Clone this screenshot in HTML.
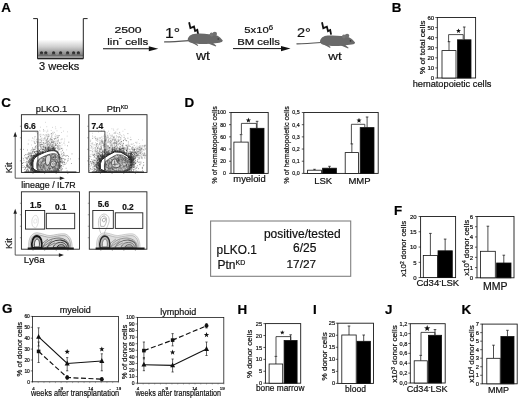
<!DOCTYPE html>
<html><head><meta charset="utf-8"><title>Figure</title>
<style>html,body{margin:0;padding:0;background:#fff;}svg{display:block;filter:blur(0.35px);}svg text{font-family:"Liberation Sans",sans-serif;stroke:#111;stroke-width:0.2px;}</style></head>
<body>
<svg width="520" height="399" viewBox="0 0 520 399" >
<defs><linearGradient id="wg" x1="0" y1="0" x2="0" y2="1"><stop offset="0" stop-color="#fff"/><stop offset="0.45" stop-color="#cfcfcf"/><stop offset="1" stop-color="#7a7a7a"/></linearGradient></defs>
<rect width="520" height="399" fill="#fff"/>
<text x="1.2" y="12.3" font-size="13.4" text-anchor="start" font-weight="bold" fill="#000" stroke-width="0.32" >A</text>
<rect x="37.6" y="39.5" width="46" height="16.3" fill="url(#wg)"/>
<rect x="37.6" y="55.8" width="46" height="2" fill="#b8b8b8"/>
<polyline points="33.2,18.6 37.5,18.6 37.5,58.6 83.3,58.6 83.3,18.6 87.6,18.6" fill="none" stroke="#222" stroke-width="1"/>
<line x1="37.50" y1="58.50" x2="83.30" y2="58.50" stroke="#222" stroke-width="1.7" />
<line x1="38.00" y1="55.90" x2="83.00" y2="55.90" stroke="#333" stroke-width="0.7" />
<circle cx="41.5" cy="52.8" r="1.6" fill="#2e2e2e"/>
<ellipse cx="41.5" cy="54.5" rx="2.2" ry="0.7" fill="#666"/>
<circle cx="45.8" cy="52.8" r="1.6" fill="#2e2e2e"/>
<ellipse cx="45.8" cy="54.5" rx="2.2" ry="0.7" fill="#666"/>
<circle cx="53.6" cy="52.8" r="1.6" fill="#2e2e2e"/>
<ellipse cx="53.6" cy="54.5" rx="2.2" ry="0.7" fill="#666"/>
<circle cx="60.6" cy="52.8" r="1.6" fill="#2e2e2e"/>
<ellipse cx="60.6" cy="54.5" rx="2.2" ry="0.7" fill="#666"/>
<circle cx="67.6" cy="52.8" r="1.6" fill="#2e2e2e"/>
<ellipse cx="67.6" cy="54.5" rx="2.2" ry="0.7" fill="#666"/>
<circle cx="73.6" cy="52.8" r="1.6" fill="#2e2e2e"/>
<ellipse cx="73.6" cy="54.5" rx="2.2" ry="0.7" fill="#666"/>
<circle cx="78.4" cy="52.8" r="1.6" fill="#2e2e2e"/>
<ellipse cx="78.4" cy="54.5" rx="2.2" ry="0.7" fill="#666"/>
<text x="59.2" y="69.6" font-size="11" text-anchor="middle" font-weight="normal" fill="#111" stroke-width="0.32" >3 weeks</text>
<text transform="translate(128.0,33.2) scale(1.26,1)" font-size="9.7" text-anchor="middle" font-weight="normal" fill="#111" stroke-width="0.27">2500</text>
<text transform="translate(127.8,44.6) scale(1.19,1)" font-size="9.7" text-anchor="middle" font-weight="normal" fill="#111" stroke-width="0.27">lin<tspan dy="-4.5" font-size="8">-</tspan><tspan dy="4.5"> cells</tspan></text>
<line x1="103.00" y1="48.75" x2="151.00" y2="48.75" stroke="#111" stroke-width="1" />
<polygon points="158.3,48.75 148.8,46.2 148.8,51.3" fill="#111"/>
<text transform="translate(165.0,38.2) scale(1.05,1)" font-size="15" text-anchor="start" font-weight="normal" fill="#111" stroke-width="0.30">1°</text>
<polyline points="189.1,22.2 190.4,28.1 194.0,26.6 195.1,31.0 197.3,29.9 198.2,34.6" fill="none" stroke="#111" stroke-width="1.8" stroke-linejoin="miter"/>
<g transform="translate(0,0)">
<path d="M164.6,41.9 C172,41.8 181,41.2 189,40.6" fill="none" stroke="#555" stroke-width="1.2" stroke-linecap="round"/>
<path d="M187.7,39.5 C188,36.5 191,33.9 195.5,33.7 C200,33.5 205,33.6 209,34.2 C212,34.3 215,34.6 217,35.6 C219.5,37 221.5,38.8 222.8,40.6 C222.6,41.8 221.5,42.4 219.5,42.7 C216.5,43.2 213.5,43.5 211,43.5 C205,44.3 198,44.3 193,43.3 C190,42.7 187.6,41.5 187.7,39.5 Z" fill="#696969"/>
<ellipse cx="211.6" cy="34.6" rx="1.9" ry="2.1" fill="#777"/>
<ellipse cx="214.8" cy="33.9" rx="2.2" ry="2.1" fill="#707070"/>
<circle cx="218.2" cy="39" r="0.8" fill="#333"/>
<path d="M191.5,42.6 L197.8,46 L198.2,45.2 L196,43.2 Z M207.5,43.2 L215.8,46.6 L216.3,45.8 L213,43 Z" fill="#666"/>
</g>
<text transform="translate(203.0,60.3) scale(1.17,1)" font-size="12" text-anchor="middle" font-weight="normal" fill="#111" stroke-width="0.30">wt</text>
<text transform="translate(258.6,33.2) scale(1.2,1)" font-size="9.4" text-anchor="middle" font-weight="normal" fill="#111" stroke-width="0.26">5x10<tspan dy="-3.5" font-size="6.5">6</tspan></text>
<text transform="translate(258.5,44.5) scale(1.19,1)" font-size="9.5" text-anchor="middle" font-weight="normal" fill="#111" stroke-width="0.27">BM cells</text>
<line x1="233.00" y1="48.60" x2="284.00" y2="48.60" stroke="#111" stroke-width="1" />
<polygon points="290.5,48.6 281,46 281,51.2" fill="#111"/>
<text transform="translate(297.0,36.5) scale(1.12,1)" font-size="13" text-anchor="start" font-weight="normal" fill="#111" stroke-width="0.30">2°</text>
<polyline points="322.0,22.3 323.3,28.2 326.9,26.7 328.0,31.1 330.2,30.0 331.1,34.7" fill="none" stroke="#111" stroke-width="1.8" stroke-linejoin="miter"/>
<g transform="translate(132.3,1.9)">
<path d="M164.6,41.9 C172,41.8 181,41.2 189,40.6" fill="none" stroke="#555" stroke-width="1.2" stroke-linecap="round"/>
<path d="M187.7,39.5 C188,36.5 191,33.9 195.5,33.7 C200,33.5 205,33.6 209,34.2 C212,34.3 215,34.6 217,35.6 C219.5,37 221.5,38.8 222.8,40.6 C222.6,41.8 221.5,42.4 219.5,42.7 C216.5,43.2 213.5,43.5 211,43.5 C205,44.3 198,44.3 193,43.3 C190,42.7 187.6,41.5 187.7,39.5 Z" fill="#696969"/>
<ellipse cx="211.6" cy="34.6" rx="1.9" ry="2.1" fill="#777"/>
<ellipse cx="214.8" cy="33.9" rx="2.2" ry="2.1" fill="#707070"/>
<circle cx="218.2" cy="39" r="0.8" fill="#333"/>
<path d="M191.5,42.6 L197.8,46 L198.2,45.2 L196,43.2 Z M207.5,43.2 L215.8,46.6 L216.3,45.8 L213,43 Z" fill="#666"/>
</g>
<text transform="translate(335.0,60.1) scale(1.17,1)" font-size="11.5" text-anchor="middle" font-weight="normal" fill="#111" stroke-width="0.30">wt</text>
<text x="391.7" y="12.0" font-size="13.4" text-anchor="start" font-weight="bold" fill="#000" stroke-width="0.32" >B</text>
<rect x="437.30" y="17.50" width="38.30" height="60.50" fill="none" stroke="#1a1a1a" stroke-width="0.9" />
<line x1="435.30" y1="78.00" x2="437.30" y2="78.00" stroke="#1a1a1a" stroke-width="0.7" />
<text transform="translate(434.1,80.2) scale(1.0,1)" font-size="6.0" text-anchor="end" fill="#111" stroke-width="0.15">0</text>
<line x1="435.30" y1="67.92" x2="437.30" y2="67.92" stroke="#1a1a1a" stroke-width="0.7" />
<text transform="translate(434.1,70.1) scale(1.0,1)" font-size="6.0" text-anchor="end" fill="#111" stroke-width="0.15">10</text>
<line x1="435.30" y1="57.83" x2="437.30" y2="57.83" stroke="#1a1a1a" stroke-width="0.7" />
<text transform="translate(434.1,60.0) scale(1.0,1)" font-size="6.0" text-anchor="end" fill="#111" stroke-width="0.15">20</text>
<line x1="435.30" y1="47.75" x2="437.30" y2="47.75" stroke="#1a1a1a" stroke-width="0.7" />
<text transform="translate(434.1,49.9) scale(1.0,1)" font-size="6.0" text-anchor="end" fill="#111" stroke-width="0.15">30</text>
<line x1="435.30" y1="37.67" x2="437.30" y2="37.67" stroke="#1a1a1a" stroke-width="0.7" />
<text transform="translate(434.1,39.8) scale(1.0,1)" font-size="6.0" text-anchor="end" fill="#111" stroke-width="0.15">40</text>
<line x1="435.30" y1="27.58" x2="437.30" y2="27.58" stroke="#1a1a1a" stroke-width="0.7" />
<text transform="translate(434.1,29.7) scale(1.0,1)" font-size="6.0" text-anchor="end" fill="#111" stroke-width="0.15">50</text>
<line x1="435.30" y1="17.50" x2="437.30" y2="17.50" stroke="#1a1a1a" stroke-width="0.7" />
<text transform="translate(434.1,19.7) scale(1.0,1)" font-size="6.0" text-anchor="end" fill="#111" stroke-width="0.15">60</text>
<line x1="449.00" y1="50.60" x2="449.00" y2="41.70" stroke="#222" stroke-width="0.8" />
<line x1="447.70" y1="41.70" x2="450.30" y2="41.70" stroke="#222" stroke-width="0.8" />
<rect x="442.00" y="50.60" width="14.00" height="27.40" fill="#fff" stroke="#111" stroke-width="0.8" />
<line x1="464.25" y1="39.80" x2="464.25" y2="27.00" stroke="#222" stroke-width="0.8" />
<line x1="462.95" y1="27.00" x2="465.55" y2="27.00" stroke="#222" stroke-width="0.8" />
<rect x="457.50" y="39.80" width="13.50" height="38.20" fill="#000" stroke="#111" stroke-width="0.8" />
<polyline points="448.6,42 448.6,34.6 463.2,34.6 463.2,39" fill="none" stroke="#222" stroke-width="0.8"/>
<polygon points="458.50,28.40 459.14,30.12 460.97,30.20 459.54,31.34 460.03,33.10 458.50,32.09 456.97,33.10 457.46,31.34 456.03,30.20 457.86,30.12" fill="#111"/>
<text transform="translate(424.6,47.4) rotate(-90) scale(1.145,1)" font-size="7.3" text-anchor="middle" fill="#111" stroke-width="0.18">% of total cells</text>
<text x="452.0" y="87.0" font-size="9.25" text-anchor="middle" font-weight="normal" fill="#111" stroke-width="0.28" >hematopoietic cells</text>
<text x="1.2" y="106.7" font-size="13.4" text-anchor="start" font-weight="bold" fill="#000" stroke-width="0.32" >C</text>
<text x="51.5" y="111.7" font-size="9.3" text-anchor="middle" font-weight="normal" fill="#111" stroke-width="0.28" >pLKO.1</text>
<text x="117.5" y="111.8" font-size="9.3" text-anchor="middle" font-weight="normal" fill="#111" stroke-width="0.28" >Ptn<tspan dy="-3" font-size="5.5">KD</tspan></text>
<rect x="21.40" y="114.70" width="58.00" height="57.70" fill="#fff" stroke="#222" stroke-width="0.9" />
<line x1="19.90" y1="126.24" x2="21.40" y2="126.24" stroke="#444" stroke-width="0.5" />
<line x1="33.00" y1="172.40" x2="33.00" y2="173.90" stroke="#444" stroke-width="0.5" />
<line x1="19.90" y1="137.78" x2="21.40" y2="137.78" stroke="#444" stroke-width="0.5" />
<line x1="44.60" y1="172.40" x2="44.60" y2="173.90" stroke="#444" stroke-width="0.5" />
<line x1="19.90" y1="149.32" x2="21.40" y2="149.32" stroke="#444" stroke-width="0.5" />
<line x1="56.20" y1="172.40" x2="56.20" y2="173.90" stroke="#444" stroke-width="0.5" />
<line x1="19.90" y1="160.86" x2="21.40" y2="160.86" stroke="#444" stroke-width="0.5" />
<line x1="67.80" y1="172.40" x2="67.80" y2="173.90" stroke="#444" stroke-width="0.5" />
<path d="M46.2,146.1h0M46.4,141.1h0M41.5,141.7h0M55.8,145.5h0M55.3,144.5h0M50.8,144.1h0M36.3,148.1h0M51.5,146.0h0M36.2,132.5h0M41.8,140.2h0M50.1,142.7h0M51.6,139.1h0M50.2,145.4h0M51.9,150.2h0M43.7,138.6h0M45.6,142.4h0M52.4,144.5h0M44.9,137.3h0M44.4,150.3h0M42.3,144.5h0M51.0,134.1h0M48.3,150.8h0M33.9,141.1h0M47.3,138.1h0M51.5,142.6h0M37.7,148.0h0M52.7,148.7h0M58.1,145.2h0M48.8,135.2h0M52.3,139.3h0M44.8,135.4h0M41.2,139.8h0M57.0,130.8h0M37.8,144.4h0M58.1,146.5h0M34.7,127.9h0M50.5,138.6h0M40.2,148.9h0M55.7,143.9h0M49.7,145.6h0M59.2,146.7h0M51.6,146.3h0M37.0,150.7h0M54.7,146.2h0M34.2,139.2h0M53.9,132.1h0M46.7,149.1h0M38.8,152.7h0M51.9,142.1h0M50.3,146.9h0M48.8,149.9h0M43.4,140.5h0M55.3,143.2h0M41.8,148.7h0M58.3,140.3h0M38.3,142.2h0M47.0,141.2h0M57.8,136.8h0M56.8,135.4h0M42.5,146.8h0M55.9,148.2h0M50.4,143.9h0M49.1,146.5h0M46.8,144.7h0M52.0,143.0h0M53.3,146.4h0M62.1,144.9h0M45.0,140.8h0M47.9,148.5h0M45.6,145.3h0M60.9,127.6h0M40.1,144.5h0M50.8,144.4h0M45.0,146.9h0M50.0,139.9h0M65.0,145.1h0M44.1,142.4h0M46.4,142.6h0M28.9,140.1h0M55.1,136.0h0M47.5,148.7h0M36.1,140.9h0M45.6,146.7h0M55.6,126.9h0M55.6,134.3h0M52.8,134.0h0M49.2,150.2h0M47.0,144.1h0M53.6,143.8h0M55.3,141.2h0M67.2,136.1h0M54.4,141.4h0M48.9,147.2h0M49.6,146.8h0M37.3,133.9h0M52.3,137.2h0M40.8,134.2h0M56.9,147.5h0M58.3,137.4h0M48.0,136.2h0M41.8,152.4h0M54.9,141.9h0M34.2,151.4h0M47.3,139.4h0M50.8,145.5h0M58.5,136.9h0M58.2,141.9h0M42.8,149.1h0M48.8,143.7h0M58.0,141.4h0M31.9,140.7h0M35.0,147.9h0M50.2,139.3h0M47.9,148.0h0M48.6,151.0h0M47.6,149.2h0M58.4,152.7h0M43.3,148.3h0M34.9,136.5h0M34.3,149.4h0M39.4,142.9h0M46.7,142.8h0M43.9,144.4h0M60.5,143.3h0M51.7,149.0h0M46.6,135.4h0M44.1,149.4h0M36.5,139.4h0M55.1,147.8h0M48.1,147.8h0M49.2,135.9h0M37.1,139.2h0M54.5,139.6h0M41.7,138.4h0M37.3,142.3h0M39.7,145.2h0M31.5,145.0h0M43.5,131.3h0M53.1,141.3h0M32.4,137.7h0M50.0,140.2h0M53.5,147.5h0M52.7,145.0h0M57.3,147.0h0M51.2,130.5h0M45.9,140.2h0M61.6,132.5h0M41.5,147.1h0M61.2,142.3h0M51.9,148.4h0M41.7,142.5h0M50.0,148.0h0M47.8,141.8h0M40.9,140.8h0M54.2,143.6h0M42.0,138.0h0M66.7,149.8h0M52.5,127.4h0M52.4,145.9h0M59.8,145.6h0M47.5,146.1h0M34.4,149.2h0M50.3,138.8h0M38.2,139.0h0M50.0,144.1h0M45.2,137.2h0M62.8,149.2h0M39.6,134.9h0M59.9,148.9h0M60.7,147.9h0M41.9,144.6h0M32.9,138.5h0M47.6,146.1h0M42.9,142.3h0M51.2,145.3h0M52.5,144.3h0M45.7,147.7h0M48.3,138.0h0M43.6,143.0h0M47.2,143.9h0M48.0,144.1h0M47.1,135.4h0M50.9,149.3h0M51.0,141.9h0M51.1,137.2h0M34.7,143.4h0M41.5,147.4h0M40.4,127.2h0M40.7,152.5h0M45.3,134.8h0M42.7,146.1h0M51.5,144.1h0M58.4,147.2h0M47.9,146.6h0M59.6,148.8h0M55.2,136.5h0M47.0,147.4h0M45.9,149.4h0M52.2,148.4h0M56.7,141.7h0M45.6,148.2h0M54.9,143.0h0M39.8,144.1h0M50.5,149.8h0M53.5,143.1h0M54.0,146.2h0M49.4,143.3h0M46.3,147.1h0M40.6,139.2h0M48.0,134.2h0M44.9,130.9h0M43.2,146.4h0M52.0,142.7h0M46.4,134.5h0M60.8,146.1h0M55.7,137.7h0M46.7,132.1h0M53.5,148.6h0M34.7,142.7h0M52.4,132.4h0M35.2,136.6h0M43.6,134.6h0M48.2,144.5h0M52.4,147.2h0M58.5,150.0h0M38.8,140.0h0M40.6,136.5h0M47.4,143.0h0M51.4,133.5h0M39.3,142.9h0M46.6,141.1h0M47.6,138.4h0M52.9,145.1h0M47.4,139.0h0M46.8,126.7h0M41.1,143.2h0M37.5,144.2h0M49.0,134.7h0M46.2,141.1h0M51.2,146.7h0M47.7,137.9h0M47.0,142.6h0M53.1,144.8h0M42.9,134.9h0M45.4,138.6h0M40.2,142.3h0M44.6,143.6h0M51.7,140.5h0M64.3,141.1h0M55.7,143.7h0M55.8,128.7h0M42.7,144.5h0M50.3,150.7h0M53.4,148.7h0M51.6,142.1h0M51.6,136.5h0M56.3,136.9h0M46.4,143.1h0M56.1,143.2h0M42.3,144.5h0M52.1,147.3h0M59.7,143.1h0M49.9,140.4h0M57.9,138.8h0M52.7,140.1h0M43.1,147.3h0M57.3,142.9h0M43.3,147.9h0M47.7,144.9h0M58.7,149.8h0M48.0,147.7h0M43.5,142.7h0M35.8,153.7h0M57.6,135.7h0M37.5,133.3h0M56.2,140.2h0M47.6,141.1h0M47.2,136.5h0M48.2,134.4h0M47.5,144.9h0M51.3,141.6h0M41.7,144.0h0M44.6,152.4h0M53.4,142.3h0M44.7,138.8h0M41.4,140.9h0M50.1,146.1h0M43.1,143.1h0M67.6,131.8h0M44.3,144.0h0M49.1,145.4h0M46.3,145.2h0M48.4,147.6h0M34.8,137.7h0M48.0,136.8h0M40.7,146.8h0M43.5,146.8h0M53.2,144.8h0M51.6,142.4h0M38.1,142.8h0M51.2,139.8h0M47.3,147.5h0M41.9,146.8h0M61.0,139.7h0M49.0,142.1h0M58.8,144.9h0M54.3,138.9h0M47.9,142.9h0M35.6,151.6h0M54.3,132.5h0M53.2,142.2h0M51.1,145.2h0M37.5,141.7h0M58.4,139.6h0M40.8,134.8h0M39.5,145.0h0M59.8,145.6h0M44.4,139.0h0M51.7,146.3h0M40.9,136.0h0M50.0,144.5h0M38.9,141.8h0M44.2,145.8h0M47.2,142.5h0M45.5,149.3h0M57.7,140.8h0M53.9,138.5h0M48.5,147.5h0M58.6,140.7h0M47.5,144.2h0M37.5,143.1h0M43.3,145.2h0M40.1,131.1h0M48.3,144.6h0M44.2,148.3h0M46.1,139.4h0M51.3,133.6h0M43.3,142.9h0M53.9,142.0h0M50.2,139.1h0M43.5,143.1h0M49.2,149.1h0M39.3,130.4h0M52.2,147.8h0M49.4,144.5h0M54.5,145.2h0M59.6,135.6h0M45.4,122.3h0M53.7,140.8h0M48.0,141.5h0M44.5,138.0h0M43.6,146.8h0M48.3,143.4h0M46.8,148.5h0M51.5,142.1h0M52.7,142.1h0M39.9,151.7h0M51.3,137.3h0M55.6,145.1h0M37.0,152.7h0M50.3,148.3h0M49.4,142.1h0M37.2,148.8h0M48.2,141.3h0M50.5,143.5h0M52.7,140.8h0M47.7,130.2h0M45.0,147.1h0M57.4,140.8h0M45.7,147.4h0M59.7,143.2h0M56.6,138.7h0M49.5,142.5h0M48.8,149.8h0M64.7,139.0h0M44.0,146.0h0M40.6,146.0h0M52.0,141.3h0M51.7,133.7h0M53.3,133.7h0M43.1,139.7h0M45.2,148.2h0M48.6,140.6h0M48.0,145.2h0M56.7,144.6h0M63.5,131.1h0M47.7,145.5h0M54.8,147.0h0M46.1,136.7h0M48.7,149.2h0M40.4,136.8h0M47.8,131.4h0M46.2,140.4h0M51.2,138.8h0M41.8,140.6h0M47.7,139.0h0M48.1,147.5h0" stroke="#666" stroke-width="0.6" stroke-linecap="round" opacity="0.55" fill="none"/>
<path d="M59.2,171.5h0M33.4,160.4h0M31.0,159.8h0M36.9,171.5h0M55.2,148.6h0M66.6,155.8h0M58.5,170.0h0M35.3,157.4h0M26.7,165.7h0M34.6,157.3h0M31.3,164.1h0M56.5,170.7h0M41.5,144.7h0M49.1,150.8h0M28.3,170.8h0M53.1,150.0h0M42.0,153.5h0M54.7,148.2h0M57.5,171.8h0M39.3,154.4h0M32.5,170.4h0M33.7,169.2h0M43.8,152.5h0M31.9,163.5h0M41.9,150.9h0M32.4,162.1h0M32.7,156.2h0M51.2,148.6h0M29.6,159.3h0M60.7,162.1h0M32.2,161.7h0M55.0,171.3h0M50.1,149.1h0M54.1,171.3h0M30.0,158.8h0M36.5,155.6h0M32.2,168.6h0M28.0,156.8h0M28.2,170.5h0M43.1,153.0h0M40.9,144.6h0M28.3,162.2h0M32.0,159.9h0M43.2,152.8h0M31.5,168.7h0M34.9,157.8h0M56.1,171.0h0M60.3,157.5h0M32.6,162.4h0M42.5,152.7h0M31.1,157.1h0M60.1,166.4h0M51.1,148.6h0M32.9,157.0h0M35.4,171.3h0M32.1,168.7h0M61.3,170.1h0M31.6,164.3h0M33.3,172.0h0M31.1,162.2h0M42.4,152.8h0M31.7,154.7h0M32.6,168.0h0M47.9,151.3h0M35.7,170.4h0M30.3,163.7h0M31.7,157.5h0M32.3,166.9h0M35.1,170.6h0M30.1,153.8h0M56.9,170.4h0M35.8,170.5h0M57.5,152.3h0M27.0,166.5h0M32.8,159.1h0M40.8,153.8h0M38.3,155.0h0M58.7,154.6h0M30.6,167.4h0M33.1,156.2h0M58.6,154.4h0M28.4,156.7h0M56.5,171.8h0M55.3,148.1h0M54.2,171.6h0M66.1,168.3h0M31.1,162.9h0M34.0,157.9h0M31.6,168.5h0M35.1,155.2h0M34.3,141.9h0M27.5,169.6h0M39.0,146.1h0M57.5,151.4h0M26.8,171.1h0M33.0,170.0h0M26.9,167.4h0M48.5,150.2h0M45.1,147.4h0M34.5,152.5h0M64.0,143.1h0M55.6,145.2h0M34.5,152.3h0M54.8,171.3h0M48.5,150.9h0M33.0,151.2h0M43.2,151.5h0M42.5,152.8h0M62.1,161.2h0M38.6,171.9h0M36.9,154.7h0M55.0,149.1h0M26.9,159.2h0M29.4,161.1h0M33.2,150.2h0M31.4,165.0h0M60.8,167.2h0M35.0,152.1h0M60.4,165.5h0M45.9,151.7h0M34.4,171.8h0M51.9,135.3h0M58.8,153.7h0M30.9,163.7h0M63.4,152.4h0M61.2,158.4h0M54.4,150.4h0M30.9,163.5h0M46.3,149.2h0M54.2,150.3h0M30.5,166.1h0M35.2,156.3h0M36.4,155.7h0M34.3,170.0h0M35.4,156.8h0M32.3,160.6h0M30.5,164.8h0M36.6,151.1h0M32.7,163.6h0M27.0,166.6h0M56.2,170.4h0M52.9,171.5h0M47.6,150.6h0M56.1,171.9h0M37.6,155.3h0M32.4,160.7h0M59.9,159.6h0M28.1,161.2h0M32.6,164.8h0M28.7,166.0h0M36.9,155.6h0M33.7,157.5h0M56.2,170.5h0M59.4,167.5h0M32.2,158.7h0M40.6,153.2h0M37.1,171.2h0M35.2,143.4h0M30.7,163.8h0M37.4,171.7h0M67.7,155.5h0M55.3,150.1h0M30.2,160.0h0M48.2,141.3h0M39.9,154.0h0M54.6,150.3h0M48.9,150.2h0M34.5,170.3h0M39.9,153.4h0M40.3,142.6h0M41.8,152.4h0M52.9,171.8h0M34.8,171.9h0M47.0,139.9h0M33.7,157.4h0M30.2,167.9h0M36.1,171.8h0M53.8,171.4h0M58.4,171.7h0M34.0,155.6h0M33.2,160.4h0M31.3,160.6h0M60.6,170.1h0M32.8,161.5h0M30.9,168.3h0M57.1,151.7h0M45.8,148.7h0M39.3,154.5h0M37.4,151.9h0M55.3,150.2h0M45.5,148.1h0M55.9,171.6h0M32.9,166.8h0M30.7,160.4h0M60.2,156.0h0M52.8,150.6h0M24.7,155.6h0M68.2,158.6h0M31.4,169.8h0M48.4,150.7h0M31.6,164.6h0M43.6,149.6h0M64.5,159.2h0M68.1,160.2h0M34.7,156.7h0M59.0,168.7h0M58.9,154.4h0M63.5,158.6h0M31.2,167.7h0M60.8,161.3h0M34.5,172.0h0M42.8,149.1h0M54.5,149.4h0M61.5,162.6h0M32.2,165.5h0M33.8,170.6h0M57.4,137.6h0M32.3,160.4h0M35.3,171.0h0M67.1,170.8h0M54.1,150.5h0M62.6,150.6h0M31.8,169.6h0M40.6,151.4h0M58.4,169.2h0M27.8,166.3h0M53.7,172.0h0M54.2,150.1h0M36.9,155.7h0M33.7,158.4h0M30.6,170.1h0M60.0,149.2h0M34.2,169.8h0M43.0,152.0h0M38.8,149.1h0M55.7,171.5h0M36.8,145.6h0M53.9,148.5h0M36.6,151.4h0M48.5,149.3h0M32.1,165.5h0M42.4,151.7h0M50.2,149.8h0M53.7,147.8h0M26.7,170.4h0M52.0,150.0h0M57.9,151.8h0M32.4,160.9h0M32.0,162.1h0M37.2,154.1h0M64.0,153.2h0M49.5,146.0h0M34.4,155.7h0M29.2,161.1h0M59.6,158.4h0M36.9,155.0h0M58.1,152.3h0M33.9,155.6h0M57.1,170.3h0M59.4,167.8h0M29.7,159.5h0M39.1,154.6h0M39.4,153.6h0M61.3,159.6h0M48.7,150.0h0M52.3,148.5h0M30.7,171.6h0M39.8,153.4h0M32.0,156.7h0M34.9,171.6h0M31.6,158.9h0M58.3,169.9h0M64.6,162.6h0M50.4,150.3h0M54.8,150.7h0M53.3,171.5h0M37.3,146.8h0M36.9,155.3h0M26.9,158.4h0M35.2,170.8h0M32.8,152.3h0M48.5,146.8h0M35.8,155.0h0M37.9,153.7h0M31.7,166.4h0M38.8,154.0h0M32.3,162.3h0M34.4,171.3h0M31.5,164.0h0M39.4,150.9h0M31.1,161.8h0M28.5,171.3h0M53.6,147.6h0M32.5,167.7h0M32.6,157.7h0M30.5,169.2h0M51.8,171.6h0M23.6,158.7h0M35.9,156.5h0M60.3,158.2h0M54.0,149.8h0M35.3,156.7h0M40.6,149.7h0M54.9,171.0h0M57.0,171.3h0M30.3,162.0h0M41.9,152.7h0M59.1,168.1h0M50.6,150.2h0M52.5,149.6h0M56.1,145.0h0M64.3,164.2h0M22.9,165.5h0M32.7,162.6h0M62.0,148.3h0M32.2,165.2h0M32.9,155.5h0M33.9,155.4h0M30.5,162.2h0M33.4,168.6h0M45.2,148.0h0M25.1,162.4h0M56.8,170.6h0M53.0,149.9h0M65.7,159.3h0M57.2,148.0h0M31.9,167.9h0M34.2,158.5h0M50.0,150.2h0M34.1,171.4h0M57.3,171.8h0M32.6,159.8h0M33.1,169.9h0M33.8,158.6h0M35.5,170.5h0M31.3,169.2h0M47.7,149.7h0M31.0,150.9h0M32.7,166.1h0M35.1,170.9h0M22.5,163.5h0M32.7,160.5h0M58.1,153.4h0M35.6,149.1h0M34.1,169.8h0M29.5,166.2h0M55.1,171.0h0M43.1,149.6h0M60.4,161.8h0M44.6,152.4h0M46.9,147.2h0M31.2,159.7h0M34.2,156.2h0M31.7,164.9h0M24.0,160.3h0M32.4,169.5h0M31.5,162.4h0M62.0,139.0h0M38.1,153.5h0M36.8,154.2h0M23.5,162.6h0M40.7,147.2h0M51.9,147.2h0M36.5,171.5h0M33.3,156.3h0M55.3,138.5h0M35.9,146.9h0M38.4,152.3h0M31.1,164.1h0M57.4,152.2h0M36.0,156.2h0M32.3,160.3h0M23.6,149.4h0M52.3,146.1h0M30.8,170.2h0M54.0,146.8h0M30.3,160.0h0M58.0,152.9h0M71.6,163.5h0M59.4,155.7h0M58.8,154.2h0M31.9,168.0h0M31.9,163.9h0M32.6,162.1h0M49.3,150.0h0M61.2,170.8h0M31.2,161.1h0M39.7,154.4h0M30.1,163.9h0M61.5,148.6h0M31.6,168.6h0M31.7,156.5h0M44.9,149.5h0M33.2,159.5h0M33.5,168.8h0M31.2,162.9h0M43.5,152.5h0M31.5,162.8h0M29.7,167.2h0M34.4,158.6h0M63.1,164.4h0M32.9,169.2h0M61.6,158.5h0M40.0,153.1h0M43.6,129.8h0M35.4,155.9h0M32.9,165.0h0M25.6,168.9h0M30.3,152.8h0M33.6,157.7h0M67.7,161.1h0M32.5,153.3h0M63.8,154.8h0M34.1,169.3h0M61.1,151.9h0M32.4,163.3h0M46.4,150.6h0M37.9,155.3h0M33.8,149.6h0M56.6,170.8h0M28.2,144.0h0M57.6,143.4h0M48.4,148.7h0M35.4,171.7h0M28.7,162.3h0M31.6,162.0h0M36.2,152.0h0M32.1,163.7h0M55.0,170.9h0M42.4,149.5h0M32.3,167.9h0M32.4,162.7h0M53.1,171.7h0M48.2,150.2h0M62.2,162.2h0M31.3,152.8h0M31.3,164.2h0M24.5,169.5h0M40.7,172.0h0M39.2,153.4h0M27.5,164.0h0M52.9,147.8h0M31.4,159.5h0M29.0,154.6h0M52.4,149.3h0M33.0,161.4h0M33.7,157.4h0M33.3,169.5h0M31.9,149.7h0M32.2,163.3h0M33.3,156.0h0M56.0,145.6h0M47.8,148.6h0M59.1,168.2h0M32.2,160.3h0M28.1,169.6h0M27.8,165.7h0M49.4,150.9h0M32.4,158.7h0M27.0,164.4h0M55.6,171.4h0M32.8,157.4h0M53.2,148.9h0M35.6,171.1h0M64.2,162.4h0M54.8,138.9h0M32.5,147.9h0M53.2,148.4h0M31.8,161.2h0M53.0,171.7h0M46.6,150.8h0M27.7,162.1h0M34.7,156.6h0M43.8,147.3h0M58.0,170.9h0M58.5,171.8h0M27.4,165.7h0M57.7,152.5h0M48.8,148.7h0M32.2,159.9h0M39.4,153.5h0M61.3,154.4h0M54.2,149.4h0M31.3,159.5h0M29.5,163.1h0M43.7,152.6h0M26.9,164.9h0M24.6,166.8h0M37.2,154.4h0M53.6,149.4h0M59.0,170.6h0M32.7,151.9h0M29.8,153.7h0M72.0,153.9h0M51.5,150.3h0M32.8,169.9h0M58.4,170.5h0M62.5,162.6h0M54.9,171.8h0M32.5,160.1h0M31.0,158.3h0M25.6,167.6h0M27.5,164.3h0M34.7,156.1h0M28.6,160.9h0M45.0,152.3h0M58.5,154.1h0M30.1,164.2h0M37.0,155.2h0M36.1,156.8h0M51.4,150.6h0M30.1,160.5h0M67.6,145.8h0M53.7,148.2h0M33.6,157.5h0M32.2,166.1h0M42.3,152.3h0M56.4,150.7h0M31.6,169.8h0M31.6,167.2h0M42.4,151.8h0M37.9,151.7h0M40.2,154.3h0M62.1,168.8h0M33.0,149.1h0M60.9,161.7h0M56.0,150.6h0M61.6,167.1h0M52.9,148.0h0M47.8,149.3h0M45.6,143.5h0M30.7,161.5h0M68.6,156.6h0M38.5,154.4h0M48.2,147.5h0M55.7,171.0h0M36.4,156.3h0M31.8,165.6h0M33.4,171.3h0M32.7,168.5h0M59.4,154.5h0M52.3,172.0h0M36.2,154.4h0M56.7,170.7h0M63.8,161.9h0M31.3,160.4h0M28.7,167.5h0M26.8,169.7h0M54.6,149.0h0M30.4,166.6h0M39.1,151.6h0M27.5,159.0h0M32.2,159.0h0M51.8,171.9h0M49.9,172.0h0M41.3,153.7h0M30.6,169.5h0M49.0,148.4h0M37.7,155.2h0M39.5,150.6h0M58.8,168.7h0M61.3,160.0h0M61.5,165.5h0M32.8,159.9h0M26.8,157.6h0M60.2,157.4h0M40.7,153.2h0M57.6,170.3h0M33.3,159.3h0M59.1,149.8h0M38.9,150.2h0M33.0,162.2h0M31.4,165.0h0M21.8,158.0h0M46.9,149.9h0M34.7,170.1h0M57.1,170.0h0M34.2,170.6h0M33.0,170.3h0M29.7,155.4h0M31.4,155.6h0M22.3,163.1h0M51.0,149.0h0M31.5,169.9h0M60.3,158.3h0M28.8,153.2h0M31.9,165.0h0M30.4,168.6h0M38.5,152.0h0M39.1,150.5h0M27.8,165.9h0M53.2,171.5h0M58.1,148.6h0M38.1,171.7h0M63.1,166.2h0M33.0,151.7h0M30.1,159.1h0M60.6,165.2h0M42.0,153.6h0M37.3,154.2h0M30.8,160.9h0M60.1,161.2h0M62.6,160.1h0M65.6,156.0h0M32.1,167.3h0M57.8,148.9h0M37.1,153.9h0M34.9,156.0h0M61.2,161.1h0M32.4,161.3h0M34.3,151.6h0M41.9,149.2h0M38.9,154.4h0M70.4,158.9h0M42.3,151.0h0M32.8,163.7h0M36.2,171.3h0M45.2,152.2h0M34.2,149.4h0M32.4,170.6h0M27.0,171.0h0M48.5,147.1h0M59.7,164.0h0M43.8,146.3h0M59.7,166.1h0M58.8,155.1h0M44.6,152.3h0M28.8,160.7h0M31.7,164.0h0M45.9,149.2h0M45.6,150.4h0M53.1,171.5h0M48.4,149.8h0M32.6,166.6h0M60.7,167.0h0M37.4,151.4h0M58.8,170.5h0M51.3,149.4h0M79.0,158.8h0M37.1,155.2h0M33.4,157.7h0M29.2,161.4h0M45.8,151.7h0M33.1,171.6h0M44.0,151.8h0M33.8,158.8h0M56.8,170.3h0M36.1,156.0h0M30.7,154.0h0M32.2,157.6h0M35.3,170.6h0M56.6,171.0h0M35.4,157.3h0M54.3,171.9h0M35.2,170.5h0M39.2,152.4h0M58.8,169.3h0M63.3,155.3h0M36.8,154.4h0M57.8,152.3h0M25.3,167.9h0M31.2,164.1h0M64.6,155.3h0M52.7,149.0h0M60.0,163.0h0M54.8,171.7h0M61.4,165.5h0M37.5,154.7h0M46.0,150.5h0M49.3,147.8h0M40.4,152.7h0M32.1,166.5h0M57.8,145.5h0M44.3,150.2h0M21.9,167.4h0M32.7,167.1h0M31.0,164.9h0M32.3,161.9h0M41.3,152.5h0M27.7,157.8h0M33.2,169.1h0M34.2,170.1h0M35.3,153.6h0M52.5,148.5h0M32.2,160.8h0M60.1,164.6h0M32.0,162.7h0M55.9,171.5h0M63.8,161.9h0M36.3,153.9h0M29.6,167.3h0M51.8,171.7h0M33.8,156.0h0M35.8,171.8h0M33.4,171.1h0M35.2,156.7h0M56.7,151.9h0M41.0,171.8h0M66.2,163.0h0M31.6,168.3h0M34.7,155.7h0M32.4,168.6h0M30.0,162.5h0M53.2,146.0h0M35.2,151.3h0M34.0,156.8h0M55.8,150.8h0M36.8,154.6h0M31.2,165.6h0M47.5,148.9h0M59.4,170.4h0M54.0,147.7h0M32.3,171.2h0M37.3,155.0h0M57.8,146.4h0M49.3,150.2h0M32.9,157.9h0M61.7,158.1h0M32.0,164.7h0M29.3,164.5h0M33.2,170.0h0M31.5,169.3h0M41.1,148.8h0M32.2,164.9h0M40.7,146.2h0M30.1,163.0h0M45.5,151.3h0M33.3,157.9h0M62.4,158.4h0M39.9,139.8h0M51.8,139.5h0M31.4,171.1h0M45.0,152.1h0M58.2,169.0h0M54.8,150.2h0M26.8,163.3h0M35.3,154.1h0M32.9,166.3h0M58.9,135.5h0M29.5,161.1h0M35.8,156.1h0M26.7,162.0h0M35.2,147.3h0M43.0,152.7h0M32.7,160.3h0M32.1,164.9h0M32.1,155.8h0M40.5,144.9h0M33.9,158.2h0M49.3,148.8h0M49.3,150.3h0M34.6,171.0h0M62.2,161.9h0M31.8,161.9h0M30.8,158.3h0M31.6,167.8h0M33.8,155.6h0M35.0,170.7h0M38.5,154.8h0M47.4,150.8h0M36.8,141.9h0M35.4,171.8h0M37.6,171.2h0M29.1,162.3h0M42.1,151.9h0M27.4,150.0h0M28.7,156.1h0M35.7,171.2h0M31.5,164.4h0M28.1,166.4h0M35.8,154.2h0M59.3,156.3h0M38.2,154.0h0M31.6,153.6h0M43.8,151.3h0M58.9,147.7h0M32.7,167.5h0M33.1,160.1h0M33.9,159.2h0M28.7,167.0h0M29.1,168.4h0M32.6,170.4h0M33.8,153.8h0M31.7,155.8h0M26.9,165.0h0M48.8,136.5h0M28.4,163.0h0M31.3,158.8h0M37.9,154.5h0M45.2,152.0h0M53.7,142.0h0M53.7,149.4h0M51.5,150.4h0M32.6,169.6h0M56.9,170.3h0M59.7,154.4h0M32.8,158.3h0M43.5,152.1h0M32.3,168.1h0M34.8,155.8h0M30.6,162.3h0M36.5,171.8h0M42.8,153.2h0M49.6,147.6h0M31.0,164.2h0M46.0,149.0h0M60.0,168.0h0M34.9,156.6h0M35.6,170.3h0M33.7,158.6h0M57.9,153.2h0M39.9,151.8h0M39.8,153.7h0M29.5,164.6h0M41.6,151.8h0M62.0,156.1h0M52.4,142.3h0M29.0,157.7h0M53.9,171.5h0M35.7,156.0h0M26.8,161.3h0M31.4,166.2h0M50.6,149.0h0M62.2,163.5h0M34.4,156.7h0M34.3,169.6h0M61.3,169.3h0M64.8,160.1h0M29.9,163.4h0M40.7,153.1h0M26.9,154.7h0M27.9,154.1h0M31.4,164.4h0M37.9,153.5h0M32.5,161.9h0M57.9,170.0h0M40.5,154.0h0M29.4,168.1h0M37.8,154.2h0M49.9,150.1h0M32.6,159.8h0M28.2,154.2h0M31.4,155.4h0M32.0,169.7h0M39.8,153.4h0M35.8,157.0h0M60.4,166.7h0M33.4,171.5h0M68.8,142.2h0M35.4,146.3h0M37.9,153.2h0M35.9,156.1h0M30.3,165.7h0M39.7,154.6h0M32.5,164.6h0M59.3,142.9h0M23.2,167.4h0M30.3,170.7h0M45.2,147.7h0M54.2,148.2h0M25.4,154.5h0M62.3,168.9h0M57.1,151.1h0M33.6,159.7h0M25.2,157.4h0M36.7,155.8h0M38.6,153.9h0M31.6,160.9h0M60.2,159.5h0M35.4,154.2h0M30.3,156.8h0M62.0,153.6h0M36.9,155.8h0M35.4,156.1h0M31.8,170.8h0M53.5,150.4h0M32.1,168.3h0M32.7,170.8h0M42.7,152.6h0M32.5,163.5h0M62.8,156.1h0M37.9,155.2h0M26.1,158.4h0M36.4,154.9h0M61.0,166.2h0M26.3,165.5h0M30.5,156.0h0M31.0,165.6h0M44.8,150.5h0M65.1,164.4h0M29.1,158.9h0M38.3,152.9h0M33.7,156.2h0M28.8,165.2h0M29.0,152.7h0M29.1,168.2h0M31.8,158.4h0M60.7,168.7h0M50.7,147.4h0M31.6,162.2h0M35.5,156.9h0M28.9,156.6h0M28.9,167.3h0M31.5,165.0h0M39.4,150.6h0M32.8,158.7h0M35.3,170.7h0M27.6,168.8h0M29.3,163.1h0M32.4,163.9h0M27.2,167.3h0M35.2,156.3h0M30.5,165.3h0M33.8,157.7h0M37.4,151.8h0M40.2,151.9h0M33.9,158.0h0M56.4,171.4h0M42.9,152.8h0M32.3,168.5h0M30.2,170.1h0M36.7,171.8h0M30.7,155.6h0M43.7,149.8h0M35.5,155.9h0M35.8,172.0h0M52.0,146.7h0M34.2,154.5h0M31.7,170.6h0M32.3,158.4h0M26.2,171.1h0M31.5,162.4h0" stroke="#2a2a2a" stroke-width="0.6" stroke-linecap="round" opacity="0.8" fill="none"/>
<path d="M33.0,167.9 L32.9,165.1 L32.9,162.8 L33.3,160.8 L33.9,159.3 L34.7,158.2 L35.7,157.2 L36.9,156.2 L38.2,155.4 L39.8,154.6 L41.3,153.9 L42.9,153.2 L44.6,152.5 L46.4,151.8 L48.1,151.3 L49.9,150.9 L51.6,150.7 L53.4,150.7 L54.9,150.9 L56.1,151.4 L57.1,152.2 L57.9,153.4 L58.5,154.6 L59.0,155.8 L59.4,157.2 L59.6,158.8 L59.7,160.6 L59.7,162.7 L59.5,165.1 L59.1,167.9 L57.3,169.9 L53.9,171.3 L49.1,172.0 L42.8,172.0 L38.0,171.3 L34.8,169.9Z" fill="#fff" stroke="#222" stroke-width="1.0"/>
<path d="M36.8,168.5 L36.7,166.1 L36.7,164.1 L37.0,162.4 L37.5,161.1 L38.3,160.1 L39.1,159.2 L40.1,158.4 L41.3,157.7 L42.6,157.1 L43.9,156.4 L45.3,155.8 L46.8,155.2 L48.3,154.6 L49.8,154.2 L51.3,153.9 L52.8,153.7 L54.3,153.7 L55.6,153.9 L56.7,154.3 L57.5,155.0 L58.2,156.0 L58.7,157.0 L59.1,158.1 L59.5,159.3 L59.7,160.6 L59.8,162.2 L59.7,164.0 L59.5,166.1 L59.2,168.5 L57.7,170.2 L54.8,171.4 L50.6,172.0 L45.2,172.0 L41.1,171.4 L38.3,170.2Z" fill="#d0d0d0" stroke="#444" stroke-width="0.7"/>
<path d="M46.4,162.6h0M47.1,165.9h0M55.9,162.4h0M56.2,162.6h0M49.2,169.9h0M46.1,156.5h0M38.0,161.0h0M54.2,153.8h0M52.3,154.4h0M38.2,165.0h0M44.7,167.0h0M57.8,165.2h0M49.2,159.4h0M50.4,158.6h0M37.3,166.0h0M54.9,163.7h0M49.1,157.9h0M54.1,167.3h0M43.1,167.5h0M47.3,160.6h0M50.3,158.7h0M53.3,164.9h0M55.5,164.3h0M58.9,163.9h0M42.6,157.7h0M48.0,170.3h0M54.1,166.3h0M39.5,165.8h0M57.2,166.0h0M54.6,164.7h0M48.4,168.5h0M39.9,165.2h0M54.0,155.1h0M43.3,157.0h0M46.6,162.5h0M45.3,164.0h0M46.8,163.6h0M56.2,162.8h0M56.7,162.8h0M49.2,164.8h0M53.6,154.6h0M53.5,157.5h0M50.0,157.0h0M42.3,164.6h0M43.8,161.4h0M57.5,156.4h0M38.4,161.2h0M44.8,163.5h0M58.6,162.7h0M42.8,163.1h0M55.7,154.8h0M44.8,168.5h0M46.0,168.4h0M49.5,162.0h0M40.6,167.7h0M47.5,169.5h0M55.8,162.9h0M43.7,171.2h0M55.6,161.1h0M43.2,160.0h0M48.2,164.8h0M49.7,166.2h0M43.7,165.5h0M45.3,170.5h0M41.4,169.4h0M50.9,166.5h0M42.9,166.8h0M42.2,169.1h0M59.4,161.8h0M53.5,162.3h0M50.5,156.0h0M54.7,167.7h0M56.5,161.7h0M52.0,166.2h0M55.8,163.5h0M51.8,154.7h0M54.1,167.6h0M53.7,156.9h0M54.4,170.3h0M50.6,158.4h0M57.4,168.0h0M47.1,167.2h0M46.3,159.1h0M38.8,164.6h0M45.8,164.0h0M56.1,163.6h0M42.1,169.3h0M50.8,162.6h0M43.0,169.3h0M51.6,170.8h0M56.8,163.7h0M50.9,171.9h0M41.5,171.2h0M52.9,154.7h0M49.6,166.1h0M57.7,162.1h0M47.0,161.0h0M42.5,171.1h0M42.6,160.5h0M49.8,164.6h0M56.3,165.6h0M38.3,163.4h0M48.3,163.8h0M52.7,153.9h0M55.9,159.0h0M55.4,157.7h0M47.6,164.3h0M42.0,163.3h0M40.6,167.5h0M53.7,168.7h0M57.4,166.7h0M44.8,160.4h0M45.4,170.4h0M44.4,159.1h0M43.0,161.8h0M41.5,158.3h0M49.1,170.3h0M54.4,168.8h0M53.4,163.6h0M49.8,154.8h0M44.0,166.9h0M50.8,168.9h0M53.9,157.7h0M38.0,163.0h0M56.0,166.5h0M41.0,164.8h0M39.9,169.2h0M51.6,155.5h0M53.3,170.6h0M41.4,165.2h0M55.3,155.8h0M47.2,162.6h0M58.6,163.9h0M42.4,165.1h0M52.7,167.9h0M53.7,157.5h0M42.1,168.3h0M48.5,159.1h0M48.9,166.7h0M51.4,155.6h0M49.9,168.9h0M48.5,158.5h0M40.3,162.4h0M46.1,164.0h0M45.1,168.4h0M49.3,162.5h0M55.3,161.6h0M54.0,167.1h0M58.6,162.7h0M53.6,157.3h0M39.0,161.2h0M55.3,155.6h0M52.4,167.9h0M43.5,164.7h0M45.3,164.7h0M43.0,158.6h0M52.3,167.3h0M50.5,158.9h0M41.7,170.4h0M54.2,154.3h0M47.2,169.7h0M42.1,161.1h0M48.4,167.1h0M37.9,169.0h0M46.1,166.1h0M41.0,167.5h0M51.8,160.7h0M39.0,164.6h0M37.6,163.0h0M51.7,158.4h0M40.4,159.0h0M47.5,165.1h0M49.4,155.0h0M52.8,164.9h0M42.8,169.3h0M47.6,163.9h0M57.9,169.2h0M52.0,167.6h0M44.1,166.7h0M44.2,171.1h0M43.7,160.0h0M54.0,157.8h0M42.2,161.8h0M52.1,162.6h0M56.9,169.2h0M44.5,158.2h0M42.5,166.3h0M51.2,158.1h0M40.5,163.8h0M45.8,167.7h0M44.7,168.2h0M51.8,153.9h0M40.0,170.2h0M48.9,164.0h0M43.4,159.0h0M48.7,156.2h0M51.2,161.1h0M44.6,156.5h0M52.1,158.6h0M45.1,167.3h0M58.3,165.4h0M52.1,168.3h0M55.7,169.4h0M52.8,167.6h0M50.8,170.9h0M52.4,158.0h0M53.4,159.2h0M49.4,171.7h0M53.9,166.8h0M56.0,156.6h0M54.7,159.2h0M49.3,155.2h0M57.9,162.4h0M52.4,155.0h0M47.3,162.9h0M41.6,165.5h0M38.9,169.7h0M39.4,159.4h0M54.1,165.1h0M48.0,158.3h0M59.1,165.8h0M42.2,158.7h0M43.9,167.0h0M54.2,168.5h0M39.5,169.5h0M55.2,160.3h0M41.2,169.3h0M49.3,159.5h0M38.3,160.5h0M47.4,157.7h0M43.4,158.1h0M41.9,158.1h0M45.5,156.1h0M44.3,159.2h0M51.6,171.3h0M55.7,169.3h0M59.2,166.2h0M48.8,157.5h0M51.2,171.5h0M46.1,169.0h0M48.6,161.3h0M55.1,169.3h0M37.9,165.2h0M49.3,160.5h0M55.5,157.7h0M55.9,155.4h0M49.3,158.2h0M38.7,165.0h0M48.6,167.6h0M50.3,168.4h0M58.0,157.2h0M54.5,169.2h0M41.8,166.7h0M47.9,168.8h0M55.6,163.6h0M50.6,162.0h0M45.6,158.6h0M47.8,169.1h0M45.2,165.9h0M53.4,169.5h0M52.6,158.9h0M43.1,161.2h0M41.9,165.7h0M49.7,160.7h0M42.8,161.8h0M54.3,170.0h0M46.8,160.5h0M37.9,164.3h0M55.5,156.7h0M58.9,158.0h0M50.4,168.2h0M53.2,170.3h0M48.1,155.2h0M51.9,156.9h0M58.3,162.4h0M53.6,167.1h0M42.0,168.2h0M57.2,159.4h0M56.9,165.0h0M43.6,158.7h0M57.6,169.5h0M48.3,165.4h0M55.2,157.0h0M55.4,167.8h0M56.2,167.9h0M52.0,166.1h0M56.6,169.7h0M55.0,160.6h0M54.7,162.9h0M50.6,155.4h0M49.6,171.1h0M49.3,162.5h0M47.0,165.0h0M40.5,166.3h0M49.9,155.5h0M46.6,155.9h0M51.1,171.7h0M38.0,166.1h0M38.5,170.1h0M49.9,165.6h0M49.2,167.4h0M53.1,157.3h0M44.2,156.5h0M52.0,154.8h0M55.5,167.0h0M37.6,167.2h0M47.5,165.8h0M45.9,156.2h0M53.5,164.1h0M56.2,168.4h0M47.7,157.3h0M48.7,163.0h0M55.5,168.6h0M49.2,159.5h0M55.8,168.3h0M56.9,168.4h0M48.4,163.6h0M55.2,157.0h0M46.8,160.5h0M44.1,171.4h0M49.9,168.9h0M49.4,162.2h0M54.9,157.1h0M46.5,165.6h0M43.6,158.7h0M48.7,160.7h0M38.7,161.8h0M45.8,170.0h0M45.9,162.8h0M53.2,164.8h0M56.2,165.1h0M47.8,170.1h0M55.2,154.5h0M51.5,157.0h0M46.8,160.8h0M56.6,157.3h0M43.0,160.2h0M42.2,169.6h0M52.4,157.7h0M44.3,160.6h0M56.6,164.4h0M44.6,156.8h0M49.9,165.6h0M52.9,169.2h0M45.1,171.5h0M41.7,162.5h0M48.9,168.6h0M57.6,161.6h0M48.4,162.8h0M52.2,168.2h0M40.5,169.8h0M48.3,158.4h0M43.1,171.1h0M57.7,168.8h0M46.5,162.1h0M55.3,158.2h0M55.5,170.2h0M44.5,165.9h0M43.3,166.2h0M58.4,157.7h0M49.7,168.4h0M46.0,155.9h0M49.8,169.3h0M41.6,163.2h0M39.7,162.6h0M39.0,165.9h0M45.2,156.8h0M54.2,159.9h0M43.9,165.5h0M54.4,156.0h0M41.1,161.1h0M40.7,161.3h0M37.8,164.8h0M50.9,162.7h0M49.1,157.9h0M41.8,164.0h0M48.8,156.1h0M39.4,160.2h0M39.6,167.1h0M51.2,159.0h0M55.1,161.3h0M39.9,167.1h0M56.7,160.6h0M58.2,165.2h0M56.1,163.4h0M57.8,164.8h0M48.2,164.7h0M53.2,159.5h0M48.9,162.7h0M56.9,162.5h0M46.1,157.0h0M53.1,156.8h0M50.0,168.0h0M48.0,162.9h0M49.4,169.0h0M46.7,162.5h0M57.9,161.7h0M57.4,168.7h0M54.9,155.3h0M41.4,165.8h0M44.0,164.7h0M48.9,167.3h0M38.8,164.0h0M42.6,167.5h0M55.1,166.9h0M54.0,164.4h0M58.2,158.0h0M46.6,158.3h0M41.0,162.1h0M41.1,170.6h0M39.6,166.1h0M57.2,159.9h0M45.4,160.7h0M57.5,168.3h0M54.7,155.6h0M42.3,159.5h0M43.7,163.8h0M49.8,169.6h0M44.6,161.6h0M49.8,168.3h0" stroke="#333" stroke-width="0.55" stroke-linecap="round" opacity="0.7" fill="none"/>
<path d="M40.7,168.8 L40.6,166.9 L40.6,165.2 L40.8,163.9 L41.3,162.8 L41.9,162.0 L42.6,161.3 L43.4,160.7 L44.3,160.1 L45.4,159.5 L46.5,159.0 L47.6,158.5 L48.8,158.0 L50.0,157.6 L51.2,157.2 L52.5,157.0 L53.7,156.8 L54.9,156.8 L56.0,156.9 L56.8,157.3 L57.5,157.9 L58.1,158.6 L58.5,159.5 L58.9,160.4 L59.1,161.4 L59.3,162.4 L59.4,163.7 L59.3,165.2 L59.2,166.9 L58.9,168.8 L57.6,170.3 L55.3,171.2 L51.9,171.7 L47.5,171.7 L44.2,171.2 L41.9,170.3Z" fill="none" stroke="#555" stroke-width="0.6"/>
<path d="M43.8,168.6 L43.7,167.1 L43.8,165.8 L44.0,164.7 L44.3,163.9 L44.7,163.3 L45.3,162.7 L46.0,162.2 L46.7,161.7 L47.5,161.3 L48.4,160.9 L49.3,160.5 L50.2,160.1 L51.2,159.8 L52.1,159.5 L53.1,159.3 L54.0,159.2 L55.0,159.1 L55.8,159.3 L56.5,159.6 L57.1,160.0 L57.5,160.6 L57.8,161.3 L58.1,162.0 L58.3,162.8 L58.4,163.6 L58.5,164.6 L58.5,165.8 L58.4,167.1 L58.2,168.6 L57.2,169.7 L55.3,170.5 L52.7,170.9 L49.2,170.9 L46.5,170.5 L44.8,169.7Z" fill="none" stroke="#444" stroke-width="0.6"/>
<path d="M45.5,161.5 C45,157 47,154.8 49.5,155 C51.5,156 51,160 49.5,163.5 C48,166.5 45.5,165.5 45.5,161.5Z" fill="#ddd" stroke="#333" stroke-width="0.8"/>
<path d="M50.5,164 C50.5,161.5 53,160.3 55.3,161.3 C56.8,163 55.8,166.6 53,167 C51,167 50.5,165.8 50.5,164Z" fill="#d8d8d8" stroke="#333" stroke-width="0.8"/>
<path d="M52.3,164 C52.5,162.8 54,162.5 54.6,163.5 C54.6,165 53,165.8 52.3,164Z" fill="none" stroke="#555" stroke-width="0.5"/>
<line x1="24.40" y1="172.10" x2="76.40" y2="172.10" stroke="#222" stroke-width="1.3" />
<polyline points="21.4,131.2 37.9,131.2 37.9,172.4" fill="none" stroke="#222" stroke-width="0.8"/>
<text x="24.0" y="129.2" font-size="8.5" text-anchor="start" font-weight="bold" fill="#111" stroke-width="0.26" >6.6</text>
<rect x="88.80" y="114.70" width="58.20" height="57.70" fill="#fff" stroke="#222" stroke-width="0.9" />
<line x1="87.30" y1="126.24" x2="88.80" y2="126.24" stroke="#444" stroke-width="0.5" />
<line x1="100.44" y1="172.40" x2="100.44" y2="173.90" stroke="#444" stroke-width="0.5" />
<line x1="87.30" y1="137.78" x2="88.80" y2="137.78" stroke="#444" stroke-width="0.5" />
<line x1="112.08" y1="172.40" x2="112.08" y2="173.90" stroke="#444" stroke-width="0.5" />
<line x1="87.30" y1="149.32" x2="88.80" y2="149.32" stroke="#444" stroke-width="0.5" />
<line x1="123.72" y1="172.40" x2="123.72" y2="173.90" stroke="#444" stroke-width="0.5" />
<line x1="87.30" y1="160.86" x2="88.80" y2="160.86" stroke="#444" stroke-width="0.5" />
<line x1="135.36" y1="172.40" x2="135.36" y2="173.90" stroke="#444" stroke-width="0.5" />
<path d="M110.8,140.8h0M112.5,147.2h0M116.1,149.9h0M107.9,149.9h0M111.6,144.2h0M113.3,136.5h0M116.3,141.1h0M119.8,148.1h0M118.4,148.5h0M100.7,152.6h0M130.0,151.1h0M90.5,141.2h0M98.5,132.0h0M113.1,151.0h0M90.3,141.1h0M136.2,142.5h0M106.5,150.2h0M114.0,137.9h0M110.2,152.4h0M119.5,136.5h0M113.0,148.3h0M103.7,145.6h0M118.8,136.9h0M92.5,138.5h0M112.9,146.2h0M115.7,132.6h0M114.5,142.2h0M108.5,131.2h0M118.3,144.0h0M115.0,140.4h0M115.9,142.2h0M118.3,144.0h0M126.0,144.9h0M127.0,151.4h0M103.8,144.7h0M116.2,141.5h0M106.9,148.0h0M104.8,140.5h0M124.9,129.4h0M115.9,148.0h0M103.0,145.6h0M105.2,136.8h0M105.2,154.2h0M113.9,133.3h0M110.0,150.2h0M115.5,146.5h0M118.0,141.9h0M111.2,141.1h0M103.5,144.4h0M124.1,147.8h0M116.4,142.9h0M115.0,143.2h0M114.4,150.6h0M116.9,140.0h0M111.0,139.0h0M108.2,146.2h0M102.4,141.6h0M108.0,148.0h0M117.1,143.1h0M121.4,150.7h0M132.1,154.2h0M106.5,139.0h0M104.0,152.0h0M105.8,149.0h0M110.8,146.1h0M114.5,136.3h0M99.7,148.6h0M99.2,147.9h0M107.9,135.7h0M95.0,136.6h0M108.9,140.5h0M111.7,151.8h0M117.9,145.5h0M107.3,142.2h0M105.0,143.9h0M103.3,143.6h0M137.1,142.1h0M131.5,139.7h0M108.9,142.6h0M120.3,137.5h0M111.3,153.0h0M142.3,148.7h0M107.5,155.1h0M122.3,146.1h0M108.6,146.8h0M114.9,142.5h0M116.9,148.2h0M123.2,148.4h0M96.5,138.3h0M138.1,151.9h0M99.0,138.0h0M121.8,151.1h0M118.3,139.6h0M102.5,151.3h0M109.3,138.7h0M101.4,139.7h0M118.4,141.4h0M103.3,145.5h0M125.6,139.9h0M115.2,140.3h0M107.3,148.3h0M117.3,146.6h0M111.8,144.3h0M106.2,147.1h0M106.2,139.5h0M106.8,139.4h0M113.6,142.8h0M102.8,143.6h0M116.4,136.1h0M129.2,145.1h0M107.8,143.0h0M106.3,147.7h0M111.6,145.1h0M106.6,149.5h0M115.3,143.9h0M117.5,141.3h0M113.0,139.9h0M101.8,142.2h0M122.4,148.9h0M109.9,144.7h0M119.3,149.4h0M118.3,151.1h0M110.5,135.3h0M115.3,148.9h0M103.4,149.5h0M92.6,133.3h0M97.6,147.5h0M122.9,131.2h0M91.0,143.2h0M117.5,136.7h0M109.6,152.5h0M134.0,145.7h0M119.7,137.1h0M114.2,144.2h0M115.8,140.4h0M106.7,140.7h0M97.4,147.4h0M106.2,143.6h0M106.8,148.2h0M106.7,138.3h0M114.3,150.0h0M101.6,141.4h0M100.0,138.2h0M104.5,144.7h0M105.7,140.7h0M100.2,138.3h0M108.1,137.1h0M121.7,141.5h0M100.3,144.5h0M102.7,142.4h0M122.8,145.1h0M114.6,140.1h0M108.5,138.0h0M117.7,144.4h0M108.0,142.5h0M104.6,157.0h0M123.2,145.1h0M123.3,143.5h0M107.1,149.5h0M100.8,146.0h0M110.9,142.8h0M113.6,143.8h0M105.5,140.2h0M113.6,148.8h0M129.2,149.1h0M115.6,139.5h0M100.9,154.1h0M114.6,147.7h0M103.5,144.0h0M100.3,152.7h0M108.5,139.9h0M121.0,139.3h0M110.3,143.4h0M110.9,152.6h0M102.2,139.2h0M108.6,148.1h0M121.9,136.1h0M112.4,136.0h0M106.5,145.6h0M114.7,151.2h0M102.6,151.4h0M103.1,138.3h0M114.8,150.0h0M104.6,142.5h0M125.5,140.4h0M124.8,138.9h0M105.9,137.6h0M114.7,141.1h0M100.1,149.5h0M138.6,139.5h0M126.7,147.4h0M105.1,144.8h0M117.6,133.4h0M106.1,144.6h0M113.4,129.1h0M111.1,140.7h0M121.9,143.0h0M108.3,140.3h0M112.7,150.3h0M101.5,145.9h0M109.2,141.8h0M108.1,149.6h0M107.2,132.6h0M122.7,148.2h0M101.2,146.3h0M112.2,142.1h0M112.6,139.0h0M124.3,137.5h0M113.7,138.6h0M113.2,137.5h0M100.6,143.4h0M118.7,137.0h0M105.1,146.1h0M112.2,145.1h0M110.4,142.3h0M113.5,139.4h0M109.0,148.6h0M105.2,151.2h0M104.6,150.4h0M125.5,138.5h0M122.1,146.7h0M114.1,141.0h0M109.7,148.5h0M130.7,137.3h0M109.0,141.7h0M120.5,134.3h0M117.2,148.7h0M120.1,142.4h0M128.5,143.3h0M117.1,129.8h0M120.9,144.5h0M126.1,148.9h0M104.5,144.2h0M117.6,147.1h0M114.0,143.5h0M98.5,146.7h0M108.0,136.7h0M121.2,135.6h0M103.9,129.8h0M95.6,142.7h0M115.7,151.7h0M129.2,152.6h0M117.1,147.6h0M112.3,135.0h0M112.5,140.7h0M127.3,145.0h0M111.4,141.5h0M127.0,145.0h0M112.1,136.7h0M97.4,150.8h0M115.6,142.7h0M123.9,137.5h0M106.4,148.4h0M111.0,138.2h0M112.4,152.8h0M99.7,143.8h0M110.2,142.6h0M113.9,137.4h0M118.8,150.0h0M116.1,143.3h0M111.6,143.0h0M108.3,141.6h0M94.1,144.7h0M100.8,141.2h0M95.8,139.0h0M106.3,144.9h0M100.5,146.8h0M114.0,148.7h0M106.8,141.2h0M122.2,152.5h0M109.9,143.4h0M111.2,145.6h0M118.7,141.1h0M105.1,149.9h0M119.7,134.1h0M108.7,139.5h0M100.1,137.6h0M109.6,133.5h0M117.7,142.3h0M103.3,141.9h0M111.1,136.4h0M114.9,133.4h0M118.6,144.1h0M113.8,130.4h0M114.1,137.2h0M114.4,132.7h0M112.7,140.0h0M107.1,137.9h0M105.8,136.2h0M112.2,144.0h0M123.7,134.8h0M114.5,138.1h0M116.7,137.8h0M110.7,142.7h0M105.7,154.3h0M116.3,135.7h0M118.9,145.0h0M136.0,147.2h0M120.2,144.1h0M109.8,138.7h0M127.3,148.3h0M110.6,140.7h0M98.0,139.4h0M127.6,149.5h0M116.7,143.0h0M124.5,147.4h0M111.9,128.8h0M111.4,149.3h0M107.9,137.8h0M106.0,147.8h0M118.0,128.9h0M106.1,151.2h0M112.0,146.7h0M96.2,145.1h0M112.4,150.6h0M111.0,141.2h0M123.5,143.6h0M106.0,136.0h0M92.6,147.9h0M103.0,145.6h0M92.0,154.1h0M121.2,145.6h0M131.0,144.2h0M103.1,153.9h0M118.4,140.3h0M112.6,150.4h0M123.5,149.6h0M109.5,141.7h0M113.4,149.5h0M118.1,140.0h0M110.6,140.9h0M113.5,151.6h0M118.9,134.1h0M104.8,134.6h0M101.2,140.9h0M120.2,146.6h0M127.2,146.0h0M115.8,131.8h0M107.8,137.1h0M121.1,143.3h0M104.8,154.3h0M111.7,135.3h0M119.8,147.6h0M116.3,149.6h0M119.9,142.6h0M101.6,141.1h0M115.7,138.6h0M119.2,149.7h0M107.0,134.2h0M120.2,139.8h0M105.5,140.9h0M112.9,139.6h0M112.1,149.0h0M124.3,135.9h0M104.0,152.6h0M114.0,143.5h0M115.8,133.4h0M112.6,143.9h0M112.3,139.3h0M101.8,143.0h0M105.6,149.2h0M110.4,150.3h0M106.8,140.9h0M102.9,143.4h0M111.3,148.1h0M115.0,140.7h0M105.9,143.1h0M105.0,142.0h0M101.5,130.9h0M102.6,140.5h0M104.2,144.3h0M106.4,143.9h0M113.7,137.4h0M126.4,140.8h0M107.5,150.1h0M105.1,136.2h0M118.6,141.3h0M110.7,146.4h0M111.9,151.5h0M129.7,145.7h0M115.2,150.6h0M105.5,138.6h0M118.4,150.9h0M104.0,154.5h0M124.8,139.5h0M105.0,153.3h0M127.4,149.8h0M107.1,151.6h0M123.1,148.8h0M122.5,146.5h0M103.5,148.1h0M109.2,134.9h0M118.5,137.9h0M111.7,145.7h0M120.0,139.7h0" stroke="#666" stroke-width="0.6" stroke-linecap="round" opacity="0.55" fill="none"/>
<path d="M100.9,140.3h0M92.4,154.3h0M97.0,143.6h0M99.3,150.9h0M94.9,150.0h0M92.8,138.5h0M102.6,151.9h0M96.9,159.8h0M103.8,143.1h0M98.5,145.9h0M95.8,158.4h0M99.2,154.7h0M98.3,153.5h0M94.1,147.9h0M94.3,137.6h0M91.1,145.7h0M103.0,142.6h0M99.1,144.5h0M97.2,163.8h0M91.9,150.5h0M101.0,156.3h0M90.8,154.7h0M96.6,139.9h0M93.0,155.3h0M104.3,146.5h0M90.8,140.0h0M103.8,147.2h0M97.3,160.4h0M93.7,148.6h0M93.7,159.4h0M97.5,143.7h0M106.6,149.6h0M103.8,141.0h0M107.3,153.0h0M98.3,153.0h0M104.3,146.0h0M103.1,151.6h0M95.0,153.5h0M106.4,146.0h0M95.6,148.7h0M96.0,158.0h0M102.9,154.3h0M96.4,158.3h0M101.5,144.9h0M97.2,143.9h0M98.4,156.6h0M101.8,152.6h0M92.8,142.6h0M101.1,146.7h0M100.8,149.7h0M97.7,161.0h0M93.1,146.1h0M98.5,156.7h0M105.6,150.4h0M104.0,146.4h0M96.2,164.7h0M98.0,155.3h0M99.7,167.8h0M96.1,140.5h0M99.3,160.9h0M93.0,152.0h0M101.5,147.1h0M104.6,151.8h0M98.1,147.8h0M98.7,153.0h0M99.7,140.1h0M95.2,148.6h0M104.7,144.0h0M102.2,150.7h0M99.1,166.9h0M92.5,135.8h0M101.9,159.3h0M101.6,148.0h0M102.1,149.9h0M100.5,148.3h0M97.2,145.3h0M99.6,149.9h0M99.8,159.1h0M90.4,145.4h0M96.5,153.8h0M95.5,147.4h0M97.3,140.9h0M106.9,151.9h0M96.7,146.9h0M106.9,145.9h0M96.0,145.8h0M99.2,144.6h0M96.8,155.7h0M95.6,137.0h0M100.3,142.5h0M101.4,143.6h0M105.2,141.0h0M95.5,150.2h0M102.8,151.8h0M103.0,157.8h0M101.3,142.1h0M96.8,156.6h0M98.7,152.2h0M103.3,154.2h0M92.5,149.3h0M94.1,150.3h0M109.9,147.5h0M100.2,152.1h0M103.6,146.3h0M99.2,166.1h0M100.1,155.0h0M106.9,144.9h0M106.8,150.3h0M94.4,151.8h0M98.7,160.1h0M107.8,146.5h0M97.5,148.2h0M92.8,144.2h0M101.5,147.5h0M100.7,155.7h0M94.5,160.6h0M101.3,148.3h0M92.4,161.1h0M103.2,152.4h0M98.1,163.4h0M102.1,137.0h0M106.0,155.7h0M97.7,148.7h0M92.3,143.6h0M99.9,142.0h0M100.6,159.0h0M100.1,166.3h0M107.3,153.8h0M96.6,144.4h0M102.3,141.4h0M101.0,161.2h0M96.8,153.7h0M97.9,154.6h0M103.1,150.5h0M94.8,144.9h0M106.4,142.6h0M110.0,154.0h0M94.4,154.8h0M99.1,140.8h0M97.7,141.2h0M96.0,154.5h0M97.7,160.4h0M108.3,148.2h0M102.4,157.0h0M98.7,155.2h0M97.0,151.5h0M102.4,155.9h0M104.6,156.7h0M102.1,152.8h0M95.4,150.3h0M104.1,157.5h0M99.1,153.0h0M101.3,159.2h0M97.5,158.3h0M103.7,145.2h0M100.5,161.9h0M101.1,149.7h0M102.0,140.6h0M97.7,160.9h0M101.0,155.8h0M107.2,149.0h0M91.7,143.9h0M98.1,156.1h0M100.9,158.2h0M99.9,148.9h0M95.6,155.7h0M97.9,157.0h0M104.0,154.8h0M96.9,153.7h0M96.1,149.6h0M103.5,147.7h0M94.9,155.2h0M97.2,165.5h0M101.4,148.8h0M104.5,157.4h0M100.3,155.7h0M103.4,136.1h0M101.6,154.7h0M93.7,154.3h0M102.8,142.9h0M111.0,149.6h0M100.6,154.9h0M97.2,157.6h0M106.6,155.0h0M95.7,163.5h0M101.4,156.3h0M111.5,147.1h0M95.5,157.6h0M97.1,143.8h0M98.0,159.9h0M105.0,149.0h0M108.0,141.1h0M100.8,154.5h0M102.0,154.2h0M100.5,151.4h0M103.4,150.9h0M98.4,162.6h0M102.8,154.4h0M107.1,152.0h0M104.9,144.7h0M99.1,148.8h0M107.4,135.5h0M95.1,147.5h0M94.3,154.1h0M98.2,153.0h0M110.6,150.2h0M110.4,137.8h0M97.4,138.2h0M106.3,153.0h0M106.9,152.0h0M100.0,145.0h0M102.9,150.4h0M92.8,136.8h0M101.4,137.1h0M104.8,145.5h0M101.1,152.7h0M115.4,149.3h0M105.1,151.1h0M97.6,154.6h0M106.3,137.2h0M96.2,152.0h0M94.0,157.3h0M98.6,153.4h0M102.1,156.3h0M108.0,150.5h0" stroke="#666" stroke-width="0.6" stroke-linecap="round" opacity="0.55" fill="none"/>
<path d="M136.2,153.6h0M132.1,153.1h0M130.6,158.3h0M142.3,149.8h0M130.9,149.2h0M144.4,146.2h0M130.1,153.5h0M140.1,157.9h0M137.8,155.4h0M141.8,155.9h0M140.0,156.2h0M139.2,147.1h0M141.4,149.6h0M139.8,162.2h0M141.7,157.9h0M144.6,153.8h0M132.7,152.7h0M131.0,152.3h0M139.0,152.1h0M139.3,143.5h0M137.6,151.0h0M127.6,151.4h0M142.8,145.7h0M130.9,158.1h0M142.6,140.0h0M135.2,152.2h0M142.0,148.9h0M141.8,156.7h0M142.2,151.3h0M137.5,147.7h0M135.3,156.0h0M144.9,154.0h0M137.6,148.7h0M138.6,155.5h0M145.0,154.2h0M136.5,152.9h0M134.7,156.8h0M142.7,145.8h0M138.8,154.1h0M139.4,149.8h0M141.1,151.6h0M140.1,150.2h0M134.8,152.6h0M136.9,148.7h0M144.2,147.5h0M139.5,155.9h0M137.0,149.3h0M135.8,156.6h0M137.3,160.6h0M144.4,153.2h0M139.1,151.5h0M137.1,148.6h0M142.8,153.6h0M138.7,151.3h0M146.3,155.3h0M130.4,153.6h0M138.3,153.6h0M134.3,158.6h0M134.5,156.1h0M134.5,148.3h0M130.3,150.1h0M128.1,148.5h0M140.5,149.0h0M135.7,154.5h0M130.2,153.5h0M143.9,153.0h0M138.3,147.0h0M140.9,153.3h0M137.0,155.5h0M139.4,162.1h0M138.0,151.5h0M143.0,155.4h0M135.8,155.6h0M132.4,148.8h0M132.3,152.2h0M132.2,149.5h0M141.6,158.4h0M135.4,142.4h0M134.3,150.6h0M134.3,155.3h0M139.4,148.6h0M133.6,151.5h0M145.6,149.4h0M137.8,151.9h0M137.9,155.8h0M137.8,153.3h0M139.1,153.0h0M140.8,155.0h0M144.4,152.9h0M137.1,153.2h0M134.7,153.3h0M133.2,157.6h0M142.8,153.5h0M136.1,148.8h0M133.8,150.2h0M124.3,153.0h0M135.6,152.6h0M144.5,146.4h0M128.1,152.7h0M140.6,155.9h0M137.0,146.1h0M135.3,152.5h0M143.4,149.8h0M145.7,146.0h0M138.6,157.5h0M139.4,149.6h0M141.5,157.0h0M136.8,153.3h0M139.7,146.8h0M137.9,148.7h0M144.7,145.2h0M138.9,149.5h0M135.4,152.1h0M144.1,145.8h0M132.8,146.9h0M134.7,155.2h0M134.7,145.4h0M138.5,151.9h0M144.1,150.6h0M135.7,147.7h0M128.5,153.4h0M129.2,152.1h0M133.4,150.5h0M135.6,157.1h0M137.5,154.5h0M134.9,149.4h0M134.5,150.3h0M141.8,149.0h0M133.3,151.7h0M142.5,158.7h0M137.8,152.0h0M134.5,156.0h0M139.3,151.2h0M140.9,149.5h0M143.2,146.3h0M143.6,149.6h0M141.3,146.0h0M131.3,151.9h0M141.3,152.6h0M135.8,154.1h0M133.9,149.2h0M130.7,152.3h0M144.7,154.2h0M138.2,150.3h0M136.8,155.5h0M131.7,155.4h0M138.5,154.9h0M145.0,148.6h0M143.2,155.7h0M135.5,152.0h0M133.1,147.9h0M141.0,148.2h0M133.5,143.7h0M138.6,153.9h0M138.9,147.2h0M145.7,148.2h0M140.7,151.2h0M131.6,147.5h0M140.5,150.2h0M133.4,156.1h0M145.1,155.8h0M141.5,150.2h0M142.3,147.2h0M135.4,153.0h0M136.7,156.6h0M136.0,155.0h0M133.7,152.2h0M140.7,146.9h0M137.6,151.8h0M132.3,149.0h0M134.9,153.5h0M140.9,151.9h0M138.7,151.2h0M137.3,149.3h0M136.8,143.6h0M136.6,154.7h0M137.5,157.3h0M132.5,160.7h0M144.0,155.1h0M141.0,147.5h0M131.4,155.3h0M145.7,145.1h0M142.2,154.3h0M141.4,154.4h0M128.9,151.0h0M140.6,153.7h0M134.3,154.5h0M143.9,155.2h0M142.1,152.1h0M144.1,149.4h0M144.7,157.3h0M136.7,151.3h0" stroke="#666" stroke-width="0.6" stroke-linecap="round" opacity="0.55" fill="none"/>
<path d="M127.4,147.9h0M127.8,152.0h0M133.0,157.4h0M134.3,158.8h0M99.7,166.5h0M126.6,145.7h0M134.0,158.8h0M107.2,154.7h0M104.6,157.2h0M108.4,151.4h0M102.0,156.6h0M120.0,151.3h0M130.0,165.3h0M135.2,162.5h0M98.3,165.4h0M98.8,164.0h0M131.7,165.2h0M132.6,165.0h0M132.2,158.9h0M103.9,151.1h0M91.8,159.5h0M127.4,171.9h0M123.9,148.3h0M105.8,156.6h0M99.6,160.0h0M131.4,162.1h0M129.9,156.2h0M98.4,164.0h0M115.4,151.5h0M126.8,153.4h0M131.6,153.6h0M106.0,146.6h0M100.2,158.8h0M106.6,154.8h0M134.1,167.6h0M132.2,157.9h0M97.3,160.4h0M118.9,147.9h0M97.4,156.5h0M97.7,164.0h0M136.9,155.4h0M127.9,156.2h0M120.3,144.3h0M100.0,162.0h0M131.9,160.6h0M100.8,170.9h0M96.7,146.2h0M132.1,156.9h0M113.3,152.4h0M122.9,150.6h0M119.9,149.4h0M131.6,148.8h0M136.8,157.0h0M111.1,152.6h0M100.5,162.3h0M133.6,162.4h0M123.9,172.0h0M134.4,149.8h0M127.6,154.9h0M97.9,162.0h0M100.2,166.5h0M129.1,157.7h0M133.4,152.9h0M131.7,155.8h0M94.9,163.7h0M126.3,150.4h0M97.7,155.8h0M99.7,151.4h0M99.4,170.9h0M112.2,149.1h0M108.3,155.0h0M100.3,160.7h0M131.9,165.5h0M100.5,170.5h0M131.4,161.8h0M131.1,161.9h0M130.0,166.8h0M131.1,152.7h0M122.7,145.2h0M112.5,151.6h0M126.2,171.0h0M110.6,151.6h0M103.2,157.7h0M101.3,156.3h0M113.0,152.5h0M90.8,156.7h0M101.4,157.0h0M109.4,150.7h0M119.4,150.8h0M123.3,153.4h0M112.1,149.2h0M104.1,155.5h0M131.9,157.9h0M132.4,159.2h0M95.4,169.1h0M100.8,149.9h0M103.0,156.1h0M130.3,168.8h0M130.1,157.5h0M133.3,149.7h0M122.4,148.2h0M97.9,163.0h0M106.9,152.3h0M99.5,169.5h0M112.3,151.2h0M96.9,158.6h0M101.6,157.1h0M114.2,149.7h0M123.8,171.1h0M131.3,164.6h0M101.7,159.0h0M100.2,160.0h0M96.3,155.3h0M126.6,169.8h0M98.4,157.6h0M130.2,159.3h0M130.2,157.4h0M113.0,147.8h0M94.7,169.5h0M136.5,153.7h0M98.8,171.3h0M133.8,160.2h0M120.5,148.8h0M130.8,154.7h0M99.5,164.7h0M101.5,158.3h0M91.1,161.8h0M99.7,143.2h0M98.3,156.0h0M100.4,161.2h0M124.5,153.4h0M114.6,150.0h0M101.4,160.8h0M135.7,168.3h0M131.0,158.6h0M104.6,170.9h0M129.8,171.9h0M125.7,170.5h0M110.7,145.1h0M118.1,150.7h0M108.0,152.5h0M130.1,155.7h0M145.0,145.7h0M94.0,161.9h0M97.8,160.1h0M130.0,158.9h0M102.0,171.3h0M108.1,154.2h0M99.2,170.2h0M131.3,153.5h0M122.9,152.9h0M126.0,154.0h0M130.9,165.8h0M122.3,153.0h0M130.4,165.0h0M112.4,148.8h0M130.2,151.7h0M134.9,166.5h0M102.8,157.1h0M99.2,164.9h0M99.8,161.4h0M100.4,160.3h0M108.2,154.1h0M99.8,169.0h0M123.6,151.4h0M100.8,158.5h0M134.3,164.3h0M134.1,167.7h0M116.9,150.2h0M123.2,150.9h0M131.4,157.2h0M119.6,151.9h0M100.8,159.7h0M123.4,150.2h0M100.2,161.3h0M104.9,151.2h0M104.8,171.4h0M97.0,164.6h0M123.1,148.6h0M102.0,171.1h0M105.6,152.8h0M104.9,171.0h0M133.1,166.9h0M100.1,165.6h0M103.2,156.7h0M99.8,171.2h0M128.0,169.5h0M131.3,162.3h0M132.6,160.7h0M126.5,150.7h0M99.9,165.8h0M103.2,171.6h0M132.2,152.3h0M114.2,142.9h0M122.1,152.9h0M101.0,161.1h0M131.5,171.4h0M96.2,161.3h0M101.0,169.7h0M130.4,165.2h0M108.5,153.5h0M130.4,156.0h0M90.6,161.5h0M94.3,166.1h0M135.7,155.6h0M106.2,155.8h0M120.7,150.0h0M127.9,138.2h0M134.8,152.0h0M105.9,155.7h0M132.6,171.6h0M133.0,152.7h0M125.9,154.3h0M133.4,156.0h0M97.1,171.5h0M123.1,152.2h0M103.0,171.5h0M119.8,151.9h0M102.7,155.0h0M105.0,154.0h0M100.2,149.0h0M126.9,155.5h0M123.8,150.0h0M105.2,171.6h0M133.2,167.2h0M130.7,161.3h0M132.6,161.3h0M130.8,164.0h0M99.2,165.8h0M105.0,156.5h0M107.4,155.5h0M135.4,157.9h0M129.6,171.9h0M130.5,163.3h0M99.1,169.8h0M100.5,163.1h0M120.0,151.4h0M131.0,162.8h0M123.6,153.1h0M133.4,160.6h0M106.3,153.3h0M133.5,161.2h0M96.8,170.4h0M138.9,159.1h0M130.0,156.5h0M115.7,151.0h0M130.2,164.0h0M128.5,157.0h0M140.0,145.8h0M129.3,171.1h0M129.1,157.4h0M108.1,154.2h0M131.1,160.6h0M124.3,153.5h0M96.7,171.3h0M117.3,150.4h0M99.6,159.0h0M127.9,170.6h0M129.2,157.4h0M122.2,145.4h0M131.4,163.4h0M130.8,164.0h0M119.3,148.5h0M132.1,164.0h0M101.5,159.1h0M99.3,158.5h0M133.9,160.8h0M103.5,156.2h0M100.0,159.7h0M102.2,159.3h0M114.0,150.4h0M130.1,156.8h0M119.1,149.3h0M92.3,151.7h0M131.4,160.7h0M99.5,166.6h0M135.0,149.5h0M130.6,164.6h0M128.8,155.4h0M128.4,169.6h0M135.9,151.9h0M124.3,152.0h0M106.9,155.6h0M132.4,161.0h0M99.7,156.4h0M129.7,157.3h0M128.1,153.5h0M134.1,163.3h0M101.6,171.9h0M130.2,158.0h0M105.0,149.7h0M133.2,159.7h0M103.6,157.2h0M115.8,151.8h0M91.3,163.6h0M99.8,171.2h0M102.6,159.0h0M99.0,153.7h0M127.3,146.5h0M114.6,151.5h0M116.9,144.2h0M90.0,166.1h0M100.3,164.6h0M117.9,150.2h0M105.3,171.2h0M131.5,163.1h0M102.5,170.6h0M102.4,170.1h0M114.0,151.9h0M133.0,158.5h0M128.2,157.0h0M105.6,171.4h0M142.3,167.3h0M114.9,139.5h0M101.0,160.4h0M115.7,151.4h0M100.5,155.4h0M126.3,171.1h0M128.6,156.4h0M95.8,166.4h0M130.9,169.2h0M130.9,157.8h0M94.3,166.1h0M123.2,171.9h0M102.3,170.7h0M137.3,155.1h0M89.7,170.8h0M133.8,159.7h0M112.1,149.9h0M99.8,161.8h0M100.8,170.5h0M102.7,170.2h0M134.5,159.0h0M108.7,153.6h0M99.5,160.5h0M131.7,164.1h0M103.4,155.5h0M130.0,155.9h0M93.3,155.5h0M127.8,147.5h0M116.0,146.4h0M123.3,152.1h0M93.7,160.7h0M99.8,166.5h0M137.9,171.4h0M103.4,171.8h0M132.0,167.2h0M134.4,166.0h0M132.0,162.1h0M100.0,155.6h0M130.4,156.0h0M97.1,157.7h0M131.8,157.0h0M135.1,157.7h0M110.1,153.5h0M102.1,171.0h0M101.9,152.5h0M130.3,164.9h0M104.5,171.8h0M95.6,171.2h0M114.6,150.2h0M100.6,156.7h0M107.6,154.8h0M124.8,148.2h0M140.1,152.4h0M126.2,154.0h0M131.7,154.5h0M142.6,170.3h0M133.7,156.7h0M131.7,165.9h0M95.1,160.2h0M130.6,157.7h0M110.0,153.7h0M117.2,151.8h0M100.0,154.7h0M104.3,156.5h0M131.3,153.4h0M131.4,166.3h0M120.7,151.3h0M129.4,153.4h0M96.4,162.1h0M116.3,151.0h0M134.2,157.2h0M99.8,153.6h0M131.7,164.3h0M100.2,165.6h0M97.9,161.2h0M134.5,161.8h0M107.2,153.0h0M100.9,161.8h0M139.7,147.6h0M92.8,162.0h0M138.7,162.3h0M102.7,154.7h0M96.6,166.7h0M115.6,150.3h0M95.5,151.8h0M101.0,158.5h0M136.6,168.1h0M95.5,165.8h0M94.3,168.8h0M131.6,159.9h0M130.8,154.0h0M100.5,160.6h0M131.3,160.0h0M104.9,157.2h0M99.3,169.5h0M96.7,166.1h0M131.2,165.7h0M115.4,151.9h0M109.0,150.7h0M132.1,168.9h0M132.7,150.9h0M131.5,156.7h0M109.8,152.9h0M127.2,155.3h0M139.1,155.3h0M103.5,156.8h0M100.4,159.3h0M125.9,171.9h0M112.4,149.7h0M99.3,158.7h0M99.1,159.1h0M104.8,152.2h0M128.2,170.9h0M125.9,154.8h0M129.2,149.4h0M103.5,151.9h0M131.0,157.7h0M131.6,167.3h0M122.1,152.8h0M130.1,151.5h0M96.5,167.3h0M139.4,149.9h0M140.9,162.0h0M131.2,157.9h0M128.4,156.4h0M123.3,153.4h0M116.4,143.8h0M103.5,171.0h0M131.7,161.1h0M101.9,156.8h0M126.7,140.6h0M128.2,153.1h0M108.2,154.7h0M89.3,164.4h0M104.3,157.5h0M107.5,153.3h0M106.2,155.4h0M130.9,165.3h0M114.6,149.2h0M97.1,153.1h0M98.7,172.0h0M125.8,170.2h0M123.4,148.1h0M104.7,171.6h0M122.0,151.5h0M117.4,151.4h0M116.5,151.8h0M98.6,167.0h0M130.7,162.7h0M106.3,171.8h0M107.0,156.1h0M126.3,153.7h0M100.2,167.9h0M95.7,164.8h0M127.6,156.1h0M112.4,148.2h0M99.3,167.3h0M120.3,149.7h0M99.1,162.6h0M140.5,150.1h0M129.2,158.3h0M98.3,155.9h0M131.5,159.5h0M131.4,159.1h0M131.9,167.5h0M110.0,153.5h0M99.0,159.4h0M105.1,171.8h0M111.0,148.7h0M102.5,158.8h0M111.9,153.2h0M130.9,157.1h0M98.0,170.7h0M100.0,167.4h0M100.3,168.4h0M126.0,152.5h0M130.1,169.8h0M102.3,158.5h0M112.8,145.8h0M131.7,160.9h0M106.3,156.5h0M100.9,160.9h0M110.7,153.8h0M98.9,157.2h0M136.0,153.2h0M130.3,159.5h0M108.6,154.3h0M104.4,171.2h0M131.3,162.2h0M98.8,162.4h0M121.1,151.7h0M126.7,171.4h0M101.0,158.8h0M121.4,141.4h0M104.3,152.8h0M133.2,162.6h0M129.9,153.5h0M133.1,147.9h0M103.0,155.2h0M112.1,153.1h0M133.8,159.5h0M96.4,170.2h0M126.9,155.5h0M145.3,155.7h0M104.3,157.3h0M99.4,163.8h0M99.5,161.2h0M92.7,163.1h0M96.5,171.8h0M101.9,154.7h0M109.7,154.4h0M122.6,152.8h0M102.8,156.4h0M100.8,155.7h0M132.0,144.2h0M128.8,156.3h0M115.8,143.1h0M99.9,160.3h0M117.5,151.0h0M132.0,166.8h0M99.7,168.3h0M130.2,157.8h0M100.9,159.5h0M99.4,166.3h0M135.1,163.5h0M128.3,141.9h0M131.7,162.4h0M98.2,158.6h0M135.1,152.2h0M131.3,159.5h0M100.2,166.1h0M96.9,152.0h0M98.1,165.6h0M126.4,171.2h0M130.6,158.7h0M128.4,157.0h0M134.4,150.1h0M129.6,157.3h0M95.1,171.7h0M100.0,165.5h0M130.1,169.1h0M93.2,168.2h0M103.7,171.4h0M100.3,163.7h0M99.7,167.6h0M129.6,170.4h0M132.2,158.1h0M142.4,168.2h0M140.9,163.2h0M132.0,156.0h0M94.6,168.3h0M108.8,151.2h0M97.6,153.0h0M135.3,158.6h0M94.0,162.6h0M109.4,154.0h0M101.8,155.7h0M99.1,168.1h0M99.5,170.4h0M143.8,165.0h0M127.1,170.4h0M139.7,164.4h0M130.8,160.3h0M93.7,163.8h0M100.1,161.4h0M102.2,170.1h0M93.3,155.0h0M92.5,161.3h0M128.1,155.1h0M101.4,160.4h0M96.2,151.1h0M135.6,160.4h0M109.1,154.4h0M135.3,163.7h0M104.6,155.5h0M131.2,159.1h0M93.2,164.4h0M128.9,146.4h0M101.1,170.1h0M129.6,167.9h0M134.1,156.6h0M118.9,150.3h0M134.1,158.8h0M121.0,151.2h0M138.5,168.6h0M130.8,162.2h0M132.8,159.6h0M118.9,151.9h0M123.7,171.7h0M123.3,171.6h0M123.0,150.1h0M108.1,153.3h0M99.9,168.2h0M124.5,171.0h0M96.2,171.3h0M132.4,155.1h0M129.8,166.3h0M96.9,164.9h0M129.9,158.1h0M107.7,154.5h0M126.9,153.8h0M100.1,169.8h0M128.3,171.6h0M122.8,152.0h0M131.5,169.2h0M130.8,168.1h0M100.5,161.8h0M113.0,150.0h0M97.1,149.0h0M97.6,139.2h0M99.3,150.1h0M98.0,156.2h0M131.1,161.4h0M103.5,156.6h0M98.3,161.9h0M102.6,157.4h0M130.1,159.2h0M133.4,159.3h0M128.2,156.5h0M96.8,167.4h0M101.7,157.6h0M140.1,164.8h0M99.2,164.8h0M98.0,163.1h0M106.5,154.3h0M99.7,159.2h0M138.0,156.0h0M99.2,165.6h0M103.0,155.7h0M121.9,152.0h0M108.6,150.8h0M130.3,139.7h0M125.7,154.4h0M125.9,145.6h0M99.6,159.4h0M99.0,170.6h0M94.2,170.3h0M130.6,164.8h0M112.0,152.4h0M129.1,153.4h0M101.0,171.1h0M122.5,171.9h0M98.0,148.3h0M131.6,168.0h0M123.7,171.0h0M123.8,171.2h0M103.0,155.9h0M97.7,164.7h0M102.6,156.7h0M144.9,158.1h0M102.2,170.6h0M130.5,168.2h0M132.7,160.8h0M97.0,163.1h0M132.0,167.9h0M102.9,152.4h0M98.9,162.4h0M97.3,166.7h0M131.6,165.4h0M129.1,154.2h0M97.2,167.4h0M105.3,171.4h0M94.5,156.3h0M123.9,153.2h0M97.0,169.1h0M98.0,162.5h0M128.4,169.9h0M102.7,151.3h0M99.2,157.5h0M117.5,151.3h0M130.9,154.4h0M131.2,165.0h0M141.2,148.3h0M129.1,169.0h0M123.7,171.5h0M121.4,151.1h0M112.2,152.2h0M134.8,161.9h0M117.1,151.3h0M100.5,156.4h0M99.6,161.2h0M133.5,155.8h0M99.4,167.8h0M122.3,148.0h0M128.3,153.7h0M129.3,156.4h0M133.4,162.4h0M99.7,169.1h0M133.1,164.3h0M132.4,154.3h0M104.2,171.0h0M123.3,153.4h0M96.4,165.5h0M128.8,170.2h0M99.5,162.8h0M96.6,163.9h0M113.5,152.3h0M98.8,158.7h0M98.4,167.8h0M131.6,157.1h0M103.9,155.7h0M128.7,168.9h0M131.5,164.4h0M132.6,163.1h0M101.1,159.7h0M124.5,171.7h0M102.0,154.8h0M128.5,145.1h0M133.7,158.3h0M134.6,162.4h0M98.0,169.8h0M121.5,152.4h0M99.3,152.0h0M131.4,156.4h0M98.2,165.0h0M106.8,154.0h0M132.8,163.7h0M124.3,151.6h0M101.2,171.0h0M132.3,158.8h0M110.3,147.7h0M107.5,145.8h0M135.5,163.1h0M116.2,145.9h0M129.7,169.5h0M99.1,163.6h0M134.1,164.4h0M99.8,166.0h0M132.5,164.7h0M105.1,141.1h0M130.3,167.8h0M97.6,168.4h0M104.5,152.2h0M133.8,170.8h0M101.6,159.7h0M121.0,141.8h0M124.0,172.0h0M114.0,147.3h0M112.6,150.2h0M109.6,147.3h0M136.7,153.1h0M123.3,147.0h0M130.2,159.4h0M139.1,158.2h0M130.1,156.4h0M100.0,163.8h0M131.9,169.1h0M102.7,153.4h0M129.1,157.1h0M116.1,148.1h0M133.3,158.2h0M97.8,157.4h0M99.7,161.6h0M97.0,167.6h0M131.1,155.5h0M113.8,151.5h0M131.1,157.1h0M121.5,148.2h0M119.3,151.1h0M125.4,153.9h0M100.2,164.9h0M94.3,157.1h0M99.4,164.1h0M128.1,170.2h0M97.3,170.5h0M132.7,163.7h0M95.0,160.2h0M104.6,157.0h0M123.9,152.8h0M131.3,152.9h0M102.3,171.5h0M137.5,161.5h0M98.5,168.5h0M134.6,154.4h0M92.2,169.4h0M91.1,148.0h0M109.1,151.7h0M119.8,148.9h0M126.5,150.9h0M99.2,168.9h0M101.2,170.4h0M91.4,165.0h0M97.7,170.2h0M126.8,152.8h0M127.7,148.8h0M98.9,156.9h0M134.5,149.2h0M96.3,144.2h0M110.5,153.5h0M132.8,149.4h0M116.2,151.1h0M100.1,168.0h0M120.5,147.1h0M99.9,166.8h0M98.7,163.5h0M128.8,171.3h0M98.3,164.6h0M115.1,150.4h0M127.6,169.8h0M134.9,169.4h0M125.4,171.5h0M105.7,139.8h0M142.1,157.7h0M99.7,168.8h0M101.5,170.8h0M106.2,152.7h0M121.9,152.3h0M101.1,148.1h0M91.7,146.7h0M103.4,156.9h0M130.9,154.5h0M98.4,159.4h0M101.1,157.4h0M130.4,171.0h0M103.7,170.8h0M130.1,164.5h0M139.8,153.3h0M133.4,160.0h0M100.8,156.0h0M120.0,152.0h0M127.2,150.0h0M101.8,149.2h0M127.4,170.5h0M102.6,170.9h0M129.0,158.4h0M97.2,165.1h0M114.1,142.9h0M121.2,150.4h0M109.6,154.2h0M124.0,152.6h0M131.8,152.5h0M128.0,170.1h0M129.9,156.8h0M99.9,167.7h0M123.3,140.7h0M133.3,164.3h0M100.3,160.0h0M108.8,154.1h0M130.5,158.5h0M131.6,161.4h0M118.7,151.7h0M115.6,151.7h0M100.6,171.7h0M133.6,169.9h0M134.1,164.4h0M130.0,165.5h0M102.6,170.4h0M99.9,168.6h0M133.5,165.6h0M129.8,169.5h0M132.7,162.7h0M131.5,167.5h0M124.4,171.4h0M131.1,153.6h0M136.9,167.3h0M108.6,145.9h0M115.2,150.2h0M93.9,162.6h0M101.9,158.4h0M132.4,157.2h0M128.3,155.8h0M99.5,166.6h0M120.8,149.6h0M111.7,151.2h0M123.2,143.3h0M99.2,158.4h0M97.4,159.8h0M94.2,163.8h0M132.4,154.7h0M100.6,155.6h0M129.8,169.5h0M130.6,153.1h0M130.6,157.8h0M135.1,157.7h0M94.4,154.5h0M124.9,154.6h0M112.1,152.6h0M95.9,162.5h0M124.4,152.6h0M100.7,170.1h0M104.9,171.3h0M101.2,159.7h0M132.9,162.1h0M133.7,162.9h0M122.0,148.7h0M124.4,171.2h0M129.6,171.9h0M130.5,167.4h0M130.6,159.6h0M91.2,163.1h0M112.8,147.5h0M103.8,171.6h0M133.7,167.4h0M115.8,148.9h0M99.2,160.4h0M131.3,159.2h0M100.1,167.4h0M115.9,150.8h0M98.0,163.6h0M124.9,154.3h0M99.5,165.2h0M112.7,149.9h0M90.4,168.4h0M122.4,150.8h0M95.9,164.8h0M119.9,150.8h0M115.4,151.7h0M124.9,149.8h0M99.5,168.5h0M121.3,149.1h0M125.4,154.7h0M136.9,162.1h0M99.4,163.7h0M127.4,171.1h0M114.3,151.8h0M120.9,138.0h0M123.7,171.2h0M106.1,154.5h0M139.3,157.9h0M130.0,160.0h0M123.8,171.9h0M130.2,146.5h0M133.6,159.2h0M98.7,165.1h0M109.3,149.3h0M143.7,162.5h0M132.1,158.3h0M128.2,155.6h0M123.6,140.4h0M132.7,156.5h0M130.5,164.0h0M90.1,162.0h0M104.6,171.5h0M130.9,153.5h0M97.6,163.6h0M96.0,164.5h0M116.5,141.9h0M114.5,147.8h0M132.6,154.8h0M130.6,164.5h0M103.1,170.7h0M126.6,155.1h0M132.9,163.7h0M130.0,171.1h0M98.1,158.0h0M108.0,154.8h0M103.7,157.9h0M133.1,157.2h0M99.9,160.9h0M101.2,158.2h0M119.3,148.4h0M99.5,154.9h0M106.9,154.5h0M119.3,151.9h0M130.2,158.3h0M132.2,165.8h0M128.9,157.3h0M130.8,157.1h0M107.5,151.6h0M133.5,153.5h0M126.5,170.0h0M115.2,150.3h0M130.2,167.1h0M133.7,166.7h0M130.6,159.2h0M135.8,163.5h0M99.8,158.3h0M132.0,160.8h0M109.0,154.2h0M105.0,155.0h0M138.4,149.0h0M132.3,159.9h0M99.0,156.8h0M111.8,152.5h0M93.3,162.5h0M111.4,151.0h0M106.4,171.6h0M131.4,163.9h0M113.7,151.5h0M96.6,162.3h0M113.2,151.5h0M124.5,154.0h0M133.8,155.8h0M98.1,169.0h0M122.8,151.9h0M131.7,158.5h0M99.2,154.1h0M99.7,164.3h0M97.9,169.7h0M134.1,165.3h0M133.3,159.8h0M124.3,171.0h0M143.6,154.9h0M102.1,170.2h0M102.7,158.1h0M134.4,151.8h0M100.8,170.4h0M140.5,153.1h0M128.0,170.1h0M125.7,148.0h0M113.8,151.5h0M123.8,152.6h0M131.1,159.7h0M98.1,160.7h0M124.8,154.4h0M123.9,148.7h0M105.2,153.4h0M128.6,157.1h0M119.9,150.3h0M130.5,153.9h0M123.9,152.8h0M127.1,151.0h0M126.3,170.9h0M131.8,152.0h0M102.3,141.9h0M97.7,165.8h0M95.7,165.2h0M97.4,168.1h0M102.8,158.7h0M126.2,170.2h0M134.0,154.6h0M98.2,159.7h0M129.5,156.8h0M126.5,152.5h0M132.1,162.0h0M130.0,155.7h0M100.5,163.0h0M96.0,161.0h0M125.4,152.6h0M126.5,150.6h0M131.7,158.2h0M101.7,170.7h0M117.7,147.9h0M114.5,145.1h0M102.4,158.4h0M113.6,149.5h0M133.0,164.0h0M94.4,166.1h0M129.2,169.0h0M136.7,155.7h0M102.5,171.6h0M130.6,156.3h0M95.2,166.9h0M99.2,163.3h0M92.9,167.2h0M102.9,156.0h0M126.8,170.4h0M133.1,164.7h0M109.6,148.0h0M104.6,154.5h0M96.4,170.0h0M112.6,150.7h0M98.7,155.7h0M126.6,170.6h0M111.7,151.3h0M133.7,157.7h0M109.2,147.5h0M98.3,162.3h0M135.1,158.9h0M131.6,161.0h0M99.3,161.8h0M133.4,161.3h0M119.2,151.1h0M128.6,157.5h0M120.4,151.3h0M114.6,147.8h0M96.9,158.4h0M137.0,152.1h0M104.4,149.8h0M98.7,165.6h0M132.5,160.2h0M98.0,167.0h0M102.8,155.9h0M103.2,158.0h0M131.6,170.5h0M129.3,169.4h0M131.5,162.6h0M124.1,154.0h0M125.7,170.9h0M90.1,150.6h0M103.6,171.3h0M121.8,152.7h0M130.8,160.8h0M131.1,158.1h0M126.3,149.9h0M132.2,161.5h0M104.7,157.1h0M101.1,161.6h0M132.7,159.7h0M97.9,167.9h0M97.2,169.1h0M97.1,168.0h0M112.0,152.3h0M105.8,153.6h0M131.2,171.5h0M106.5,152.7h0M100.7,160.8h0M114.2,151.7h0M137.5,159.7h0M130.2,167.8h0M131.2,153.2h0M132.3,166.5h0M144.2,155.7h0M108.9,154.3h0M96.3,167.0h0M131.7,159.5h0M119.6,143.5h0M100.1,160.4h0M104.6,171.9h0M100.3,165.8h0M123.8,152.3h0M107.1,152.0h0M105.4,149.9h0M130.6,154.7h0M98.2,169.0h0M102.9,156.3h0M99.7,163.3h0M98.8,170.7h0M125.3,153.7h0M117.2,151.7h0M126.8,149.0h0M130.4,163.7h0M132.1,151.9h0M129.3,157.2h0M130.7,167.0h0M134.4,154.0h0M132.3,147.2h0M99.8,162.0h0M132.4,164.8h0M99.8,159.7h0M109.2,154.3h0M129.9,165.7h0M130.4,155.1h0M131.2,161.8h0M101.1,157.6h0M135.3,160.9h0M98.2,169.9h0M131.5,160.0h0M96.7,167.1h0M133.8,165.3h0M99.9,161.7h0M107.6,155.0h0M133.3,169.6h0M126.9,170.2h0M100.2,166.1h0M128.6,154.4h0M121.5,152.1h0M130.9,158.3h0M127.5,170.2h0M89.7,156.3h0M99.7,166.6h0M131.3,159.5h0M127.9,133.6h0M97.6,162.8h0M109.6,153.4h0M131.7,159.3h0M133.6,172.0h0M119.9,146.6h0M103.0,158.8h0M99.9,158.4h0M104.8,171.2h0M102.7,153.7h0M95.4,169.5h0M133.2,159.1h0M116.4,148.8h0M109.0,154.3h0M99.9,164.6h0M131.0,167.9h0M96.4,164.1h0M106.7,171.9h0M116.6,145.4h0M106.2,151.6h0M103.9,157.0h0M98.8,165.9h0M136.4,150.2h0M97.7,156.2h0M131.5,155.3h0M143.3,165.7h0M124.9,154.4h0M102.7,158.1h0M130.1,154.8h0M131.3,160.4h0M101.7,155.7h0M89.3,158.7h0M130.0,157.8h0M99.3,169.1h0M130.1,157.8h0M101.7,170.5h0M96.8,166.1h0M124.3,152.5h0M114.8,146.3h0M121.9,171.9h0M94.0,170.2h0M122.2,148.9h0M102.3,154.7h0M121.1,152.3h0M96.3,168.4h0M102.5,157.5h0M104.8,156.2h0M126.0,154.3h0M96.8,159.7h0M131.3,170.6h0M125.3,153.0h0M99.1,161.4h0M102.4,157.1h0M131.9,160.5h0M110.1,154.1h0M130.3,160.8h0M116.8,150.1h0M128.5,155.0h0M136.0,171.8h0M104.2,171.1h0M99.5,170.7h0M114.9,151.4h0M126.0,154.0h0M103.2,157.6h0M120.1,149.1h0M118.3,151.5h0M126.1,170.4h0M130.9,164.6h0M98.9,168.6h0M98.6,169.0h0M131.8,156.6h0M96.8,164.0h0M131.1,159.3h0M99.8,165.1h0M98.8,165.8h0M136.1,170.6h0M100.3,167.0h0M108.2,152.6h0M100.8,160.6h0M114.1,148.4h0M127.6,170.7h0M98.1,162.4h0M126.4,155.2h0M93.8,171.0h0M102.4,157.5h0M106.0,155.5h0M132.4,157.2h0M100.8,161.8h0M98.6,166.7h0M131.6,159.7h0M119.1,140.7h0M102.5,171.2h0M108.9,152.3h0M99.7,163.4h0M100.6,158.0h0M131.8,165.0h0M137.3,165.7h0M133.0,158.4h0M128.1,156.2h0M101.9,157.5h0M131.9,165.7h0M135.1,156.7h0M95.6,138.6h0M126.3,169.9h0M108.1,154.2h0M106.3,156.2h0M130.4,164.7h0M106.8,156.2h0M104.7,171.1h0M129.5,155.2h0M131.0,157.5h0M105.4,154.1h0M132.6,159.9h0M101.3,171.4h0M108.2,154.6h0M99.2,169.0h0M126.3,170.2h0M93.2,166.2h0M98.0,167.3h0M127.7,156.1h0M127.2,170.2h0M132.4,162.0h0M124.2,151.2h0M107.2,152.8h0M116.9,149.0h0M110.5,154.0h0M130.7,161.1h0M130.5,163.5h0M104.1,171.0h0M126.8,170.1h0M112.2,151.7h0M94.7,165.0h0M130.1,159.8h0M131.7,166.4h0M119.7,149.3h0M131.6,156.4h0M104.9,171.3h0M99.0,163.9h0M117.8,151.5h0M104.3,150.1h0M126.5,170.6h0M101.8,171.7h0M134.1,152.6h0M99.9,160.7h0M98.5,171.0h0M107.2,154.0h0M115.2,147.8h0M124.8,171.4h0M99.0,164.9h0M124.9,149.4h0M112.7,151.8h0M102.1,156.3h0M121.4,149.2h0M123.5,153.1h0M100.8,162.2h0M97.5,162.5h0M103.3,170.8h0M94.8,160.3h0M141.2,148.7h0M120.2,149.7h0M102.6,155.7h0M98.5,166.0h0M104.6,152.4h0M132.4,162.2h0M90.9,169.2h0M101.3,158.7h0M129.9,157.3h0M128.0,154.4h0M121.9,152.0h0M119.7,132.4h0M97.7,150.8h0M129.1,158.6h0M109.1,152.5h0M105.9,150.2h0M101.3,152.1h0M106.8,151.3h0M113.6,151.2h0M129.1,156.4h0M108.5,152.2h0M102.9,171.0h0M127.2,169.8h0M99.1,167.9h0M130.2,167.0h0M102.2,153.6h0M99.4,164.3h0M98.5,164.9h0M142.2,168.1h0M125.5,154.7h0M119.7,151.5h0M130.2,152.9h0M131.5,162.3h0M126.9,155.6h0M130.2,171.7h0M107.0,155.1h0M98.7,158.8h0M125.6,154.5h0M100.0,168.2h0M107.8,147.0h0M130.0,157.6h0M97.6,163.7h0M123.0,148.2h0M131.7,154.4h0M133.1,171.6h0M99.4,158.1h0M137.8,154.5h0M107.3,154.1h0M100.6,170.8h0M101.0,160.7h0" stroke="#2a2a2a" stroke-width="0.6" stroke-linecap="round" opacity="0.8" fill="none"/>
<path d="M100.4,169.2 L100.3,163.8 L101.7,159.9 L104.6,157.6 L108.9,154.9 L114.7,151.9 L121.0,152.3 L127.9,156.3 L130.6,161.7 L129.2,168.6 L121.5,172.0 L107.4,172.0Z" fill="#fff" stroke="#222" stroke-width="1.0"/>
<path d="M104.5,169.6 L104.4,164.9 L105.6,161.6 L108.1,159.6 L111.8,157.3 L116.8,154.7 L122.2,155.1 L128.1,158.5 L130.4,163.2 L129.2,169.1 L122.6,172.0 L110.5,172.0Z" fill="#d0d0d0" stroke="#444" stroke-width="0.7"/>
<path d="M108.8,168.3h0M112.2,159.5h0M117.6,171.5h0M127.7,163.3h0M115.0,171.8h0M106.1,167.7h0M110.5,158.5h0M108.4,160.1h0M120.4,158.7h0M123.8,162.9h0M125.3,162.8h0M127.8,160.9h0M116.2,159.6h0M127.7,161.8h0M112.1,157.8h0M106.3,164.5h0M106.7,164.5h0M125.6,158.2h0M120.9,155.4h0M116.6,170.9h0M121.6,159.8h0M126.3,164.9h0M115.0,170.7h0M123.7,170.8h0M118.3,159.7h0M127.2,160.0h0M122.5,164.3h0M126.4,165.7h0M125.1,170.2h0M119.3,160.3h0M106.2,164.5h0M118.4,161.0h0M106.1,161.2h0M125.0,166.3h0M107.2,163.6h0M126.4,162.7h0M121.6,168.6h0M121.1,157.1h0M123.9,159.5h0M109.7,162.7h0M122.4,161.0h0M110.9,171.9h0M113.0,168.3h0M117.6,166.0h0M113.2,169.4h0M114.2,171.4h0M121.0,161.4h0M115.3,156.2h0M107.6,167.4h0M116.4,171.8h0M126.7,167.5h0M127.6,168.2h0M124.9,166.8h0M105.6,163.7h0M126.0,162.7h0M113.2,169.4h0M109.5,161.8h0M112.8,164.0h0M118.7,157.0h0M128.9,165.1h0M122.0,168.1h0M119.6,160.1h0M111.3,160.7h0M118.7,159.7h0M108.1,165.6h0M108.3,165.7h0M116.5,168.4h0M114.4,170.2h0M127.0,169.7h0M106.8,165.7h0M124.4,162.4h0M109.6,168.7h0M112.0,168.0h0M106.2,163.2h0M121.6,165.3h0M112.4,171.6h0M125.1,161.0h0M109.0,170.2h0M117.2,160.2h0M110.1,164.2h0M128.3,160.2h0M120.3,156.2h0M118.6,170.5h0M110.1,164.1h0M118.7,169.3h0M116.2,167.1h0M122.0,167.4h0M127.8,167.3h0M122.5,163.1h0M114.2,162.4h0M114.9,161.2h0M106.5,167.2h0M125.3,168.4h0M117.6,158.2h0M125.1,162.2h0M110.7,169.4h0M119.1,170.4h0M110.0,161.7h0M119.1,160.2h0M121.6,161.9h0M127.5,161.5h0M111.5,167.1h0M117.1,161.3h0M112.6,168.4h0M110.9,167.2h0M119.5,166.9h0M126.4,161.4h0M125.3,170.1h0M108.5,170.6h0M107.1,161.5h0M119.2,167.0h0M117.2,166.8h0M110.7,168.5h0M124.2,166.3h0M122.3,169.2h0M114.3,163.0h0M121.0,168.9h0M122.4,159.9h0M118.3,158.8h0M129.2,168.2h0M125.7,159.4h0M112.1,159.6h0M111.9,168.8h0M110.2,162.7h0M109.7,171.1h0M122.6,160.7h0M105.7,165.9h0M112.3,157.5h0M120.2,161.2h0M126.8,164.7h0M128.9,162.4h0M107.4,161.0h0M114.6,159.7h0M110.3,168.9h0M116.6,164.0h0M119.0,161.4h0M118.9,161.7h0M115.0,161.8h0M123.0,167.3h0M117.9,163.6h0M123.3,159.3h0M125.0,157.2h0M110.7,163.5h0M126.5,165.9h0M113.8,159.7h0M129.1,166.4h0M120.8,168.5h0M108.9,164.5h0M113.5,162.8h0M126.2,165.6h0M125.0,157.7h0M121.1,165.7h0M118.5,156.3h0M107.5,170.6h0M117.9,158.4h0M124.3,168.4h0M110.8,171.8h0M126.9,166.6h0M113.2,161.0h0M105.1,169.0h0M120.5,165.2h0M113.7,163.5h0M129.2,161.5h0M109.5,168.1h0M125.7,170.1h0M122.6,170.3h0M108.9,171.2h0M111.9,168.8h0M123.0,162.3h0M118.1,160.0h0M124.2,160.2h0M116.6,170.8h0M114.0,164.4h0M116.7,157.7h0M118.0,165.1h0M108.5,165.1h0M117.2,155.8h0M108.6,160.9h0M115.9,163.2h0M107.1,164.8h0M126.0,164.3h0M125.5,160.5h0M126.4,166.7h0M107.7,167.2h0M108.8,166.0h0M111.2,158.0h0M129.9,162.7h0M111.7,159.5h0M122.3,157.8h0M112.9,170.1h0M121.2,156.8h0M127.3,164.7h0M117.5,160.4h0M106.8,165.0h0M124.4,158.9h0M114.7,159.7h0M120.0,168.9h0M116.2,167.0h0M123.1,165.5h0M113.9,160.5h0M120.1,156.2h0M107.7,162.7h0M105.9,162.0h0M118.5,163.9h0M129.3,165.8h0M108.4,168.6h0M118.5,166.2h0M126.1,160.8h0M114.7,167.9h0M125.2,158.9h0M126.6,159.0h0M122.0,163.7h0M123.4,158.3h0M118.3,161.3h0M104.5,166.6h0M127.5,162.4h0M125.3,166.8h0M122.4,157.0h0M120.5,167.7h0M109.9,159.2h0M115.8,164.8h0M127.0,167.3h0M118.2,159.0h0M128.2,159.3h0M114.8,167.5h0M125.3,157.9h0M109.3,160.6h0M119.1,162.0h0M114.0,165.0h0M119.1,158.4h0M107.8,160.6h0M113.9,160.4h0M120.5,162.8h0M125.4,161.2h0M128.6,169.0h0M114.0,165.7h0M124.1,166.8h0M127.2,168.2h0M116.7,163.3h0M125.8,168.9h0M119.8,166.0h0M119.5,156.0h0M124.8,158.1h0M113.1,170.8h0M111.3,171.3h0M118.7,159.9h0M119.7,166.6h0M107.8,161.0h0M114.4,157.6h0M126.5,164.6h0M107.7,162.4h0M105.4,164.8h0M113.6,160.9h0M123.3,168.2h0M121.7,159.9h0M127.0,158.7h0M107.6,161.8h0M129.1,168.5h0M119.8,161.8h0M127.2,169.8h0M123.3,166.7h0M112.2,169.1h0M123.5,165.2h0M114.8,166.1h0M123.4,166.4h0M129.1,161.6h0M112.8,167.7h0M124.1,167.4h0M118.7,167.9h0M105.6,165.9h0M121.2,163.5h0M110.4,170.9h0M118.1,160.4h0M121.9,158.4h0M117.2,159.5h0M113.6,156.6h0M114.8,158.9h0M111.5,162.7h0M109.2,163.0h0M125.5,159.7h0M124.9,162.4h0M115.6,162.0h0M115.0,163.0h0M108.6,163.0h0M119.6,159.0h0M117.9,165.4h0M125.7,165.5h0M114.9,168.5h0M115.3,163.9h0M110.0,171.8h0M115.1,157.8h0M125.1,157.3h0M121.1,156.6h0M126.6,158.4h0M121.5,158.9h0M125.3,157.3h0M122.4,164.8h0M112.5,164.4h0M123.1,162.6h0M111.2,167.7h0M126.7,160.3h0M118.1,169.1h0M122.3,157.2h0M115.3,168.5h0M114.2,156.1h0M125.7,159.4h0M111.7,159.8h0M110.1,168.1h0M114.4,163.6h0M116.6,165.8h0M107.8,169.7h0M117.5,155.2h0M117.6,164.3h0M119.9,167.4h0M124.5,169.8h0M124.4,165.8h0M108.3,163.7h0M107.2,167.8h0M106.0,166.0h0M120.4,171.5h0M121.8,169.7h0M119.1,163.3h0M127.4,166.5h0M118.9,170.2h0M105.9,167.2h0M110.0,167.8h0M120.2,155.5h0M121.5,162.4h0M122.4,162.7h0M113.8,168.4h0M105.5,164.0h0M123.1,166.7h0M105.1,164.9h0M128.1,162.0h0M119.2,168.5h0M120.5,166.1h0M114.9,161.3h0M110.7,162.6h0M108.8,163.8h0M110.3,161.8h0M129.5,162.5h0M127.6,160.9h0M115.3,171.4h0M108.8,168.9h0M120.4,166.2h0M110.0,167.6h0M113.1,159.7h0M111.5,166.9h0M116.9,167.0h0M124.9,170.7h0M117.0,163.1h0M120.8,164.2h0M128.5,160.9h0M116.6,169.1h0M117.7,162.0h0M109.1,162.4h0M118.7,157.7h0M105.6,169.3h0M123.7,159.4h0M126.6,164.1h0M107.9,168.3h0M113.8,166.7h0M113.5,167.1h0M123.4,158.3h0M112.0,171.9h0M108.9,168.1h0M107.9,160.8h0M125.4,159.3h0M125.3,170.8h0M122.2,161.4h0M122.7,156.9h0M110.3,168.7h0M119.4,155.8h0M114.5,156.8h0M125.0,165.6h0M126.3,165.0h0M118.5,160.0h0M120.3,156.9h0M105.5,169.4h0M116.1,167.1h0M112.6,165.7h0M110.3,165.8h0M113.6,158.7h0M118.4,162.9h0M113.4,164.3h0M125.4,160.3h0M126.4,165.3h0M120.9,167.4h0M105.9,163.7h0M118.5,158.7h0M109.4,166.3h0M108.2,166.7h0M109.7,161.0h0M113.4,156.9h0M110.7,171.4h0M116.1,166.5h0M113.3,161.3h0M115.9,160.8h0M125.2,163.6h0M122.6,158.5h0M109.7,170.0h0M120.3,170.0h0M117.2,158.4h0M119.8,159.1h0M124.9,162.7h0M117.1,167.5h0M120.6,171.1h0M117.3,162.0h0M128.0,165.7h0M117.8,155.4h0M112.1,163.3h0M113.6,156.8h0M106.2,166.2h0M114.8,164.5h0M123.9,161.3h0M115.8,157.8h0M118.2,160.1h0M106.7,164.3h0M116.9,165.5h0M116.4,171.0h0" stroke="#333" stroke-width="0.55" stroke-linecap="round" opacity="0.7" fill="none"/>
<path d="M108.7,169.8 L108.6,165.9 L109.6,163.2 L111.6,161.6 L114.6,159.8 L118.7,157.6 L123.1,157.9 L127.9,160.7 L129.8,164.5 L128.8,169.3 L123.4,171.7 L113.6,171.7Z" fill="none" stroke="#555" stroke-width="0.6"/>
<path d="M112.1,169.4 L112.1,166.3 L112.9,164.2 L114.4,163.0 L116.8,161.5 L120.0,159.8 L123.5,160.0 L127.3,162.2 L128.8,165.2 L128.0,169.0 L123.7,170.9 L116.0,170.9Z" fill="none" stroke="#444" stroke-width="0.6"/>
<path d="M111.5,163.5 C111.5,160.5 113.5,158.5 116,159 C117,160.5 116.5,162.5 118.5,163 C120.5,163.5 120.5,166.5 118,167.5 C115,168.2 111.5,167 111.5,163.5Z" fill="#d8d8d8" stroke="#333" stroke-width="0.8"/>
<path d="M114.5,160.5 L115,166.5 M112.5,164.5 L118.5,164" fill="none" stroke="#444" stroke-width="0.7"/>
<line x1="91.80" y1="172.10" x2="144.00" y2="172.10" stroke="#222" stroke-width="1.3" />
<polyline points="88.8,131.2 104.9,131.2 104.9,172.4" fill="none" stroke="#222" stroke-width="0.8"/>
<text x="91.4" y="129.2" font-size="8.5" text-anchor="start" font-weight="bold" fill="#111" stroke-width="0.26" >7.4</text>
<line x1="15.20" y1="178.20" x2="15.20" y2="134.80" stroke="#333" stroke-width="0.8" />
<line x1="15.20" y1="178.20" x2="61.80" y2="178.20" stroke="#333" stroke-width="0.8" />
<polygon points="15.2,131.8 13.399999999999999,136.8 17.0,136.8" fill="#222"/>
<polygon points="64.8,178.2 59.8,176.39999999999998 59.8,180.0" fill="#222"/>
<text transform="translate(12.3,167.8) rotate(-90) scale(1.0,1)" font-size="9.3" text-anchor="middle" fill="#111" stroke-width="0.18">Kit</text>
<text x="21.2" y="188.1" font-size="8.85" text-anchor="start" font-weight="normal" fill="#111" stroke-width="0.27" >lineage / IL7R</text>
<rect x="21.40" y="191.80" width="58.10" height="57.40" fill="#fff" stroke="#222" stroke-width="0.9" />
<line x1="19.90" y1="203.28" x2="21.40" y2="203.28" stroke="#444" stroke-width="0.5" />
<line x1="33.02" y1="249.20" x2="33.02" y2="250.70" stroke="#444" stroke-width="0.5" />
<line x1="19.90" y1="214.76" x2="21.40" y2="214.76" stroke="#444" stroke-width="0.5" />
<line x1="44.64" y1="249.20" x2="44.64" y2="250.70" stroke="#444" stroke-width="0.5" />
<line x1="19.90" y1="226.24" x2="21.40" y2="226.24" stroke="#444" stroke-width="0.5" />
<line x1="56.26" y1="249.20" x2="56.26" y2="250.70" stroke="#444" stroke-width="0.5" />
<line x1="19.90" y1="237.72" x2="21.40" y2="237.72" stroke="#444" stroke-width="0.5" />
<line x1="67.88" y1="249.20" x2="67.88" y2="250.70" stroke="#444" stroke-width="0.5" />
<path transform="translate(0.0,-30.51) scale(1,1.13)" d="M28.8,247 C28,240 30,233.2 37,233 C43,233.5 46,235.5 50,235.5 C55,235 60,233.5 65,234 C71,235.5 72.5,242 72,247Z" fill="#ebebeb" stroke="#999" stroke-width="0.5"/>
<path transform="translate(0.0,-30.51) scale(1,1.13)" d="M30.5,247 C29.5,241 31.5,234.8 37,234.6 C43,235.5 46,237 50,237 C55,236.5 60,235 65,235.6 C70,237 71,243 70.3,247Z" fill="#dedede" stroke="#777" stroke-width="0.5"/>
<path transform="translate(0.0,-30.51) scale(1,1.13)" d="M42.5,246.5 C44.5,240.5 51,237.8 59,237.6 C66.5,238.2 69.6,242 69.2,246.5Z" fill="#d0d0d0" stroke="#555" stroke-width="0.7"/>
<path transform="translate(0.0,-30.51) scale(1,1.13)" d="M47,246.5 C49,241.5 55,239.3 61,239.5 C66.8,240.3 68.6,243.3 68.2,246.5Z" fill="none" stroke="#333" stroke-width="0.9"/>
<path transform="translate(0.0,-30.51) scale(1,1.13)" d="M53,246 C54.5,242.5 58,241.2 62,241.6 C65.6,242.4 66.8,244.3 66.3,246Z" fill="#c4c4c4" stroke="#333" stroke-width="0.8"/>
<path transform="translate(0.0,-30.51) scale(1,1.13)" d="M57,245.6 C58,243.8 60.5,243.2 63,243.8 C64.6,244.5 65,245 64.6,245.6Z" fill="none" stroke="#222" stroke-width="0.8"/>
<path transform="translate(0.0,-30.51) scale(1,1.13)" d="M42,246 L52,240 M44.5,246.5 L55,242 M41.5,243 L48,238.5" fill="none" stroke="#555" stroke-width="0.6"/>
<path transform="translate(0.0,-30.51) scale(1,1.13)" d="M32.2,246.5 C31,241 33,236.1 37,235.9 C41.2,236.4 42.6,241 41.6,246.5Z" fill="#b8b8b8" stroke="#151515" stroke-width="1.7"/>
<path transform="translate(0.0,-30.51) scale(1,1.13)" d="M34.5,245.5 C34,241.5 35.3,238.6 37.3,238.5 C39.3,239 39.8,242 39.2,245.5Z" fill="#eee" stroke="#333" stroke-width="0.8"/>
<line x1="27.70" y1="248.50" x2="73.80" y2="248.50" stroke="#1a1a1a" stroke-width="2.0" />
<path d="M32.5,226.1 C30.5,219.5 33.5,214.5 36.5,215.5 C39.5,218.5 38.5,225.1 35.5,228.1 Z" fill="none" stroke="#bbb" stroke-width="0.5"/>
<path d="M34.0,223.1 C33.0,220.5 35.5,217.5 36.5,219.5 C37.5,222.5 36.5,223.1 34.0,223.1 Z" fill="none" stroke="#ccc" stroke-width="0.5"/>
<rect x="25.50" y="210.50" width="19.20" height="18.60" fill="none" stroke="#222" stroke-width="0.9" />
<rect x="46.30" y="213.30" width="28.40" height="15.40" fill="none" stroke="#222" stroke-width="0.9" />
<text x="35.7" y="207.6" font-size="8.3" text-anchor="middle" font-weight="bold" fill="#111" stroke-width="0.25" >1.5</text>
<text x="60.7" y="210.2" font-size="8.3" text-anchor="middle" font-weight="bold" fill="#111" stroke-width="0.25" >0.1</text>
<rect x="89.30" y="191.80" width="57.60" height="57.40" fill="#fff" stroke="#222" stroke-width="0.9" />
<line x1="87.80" y1="203.28" x2="89.30" y2="203.28" stroke="#444" stroke-width="0.5" />
<line x1="100.82" y1="249.20" x2="100.82" y2="250.70" stroke="#444" stroke-width="0.5" />
<line x1="87.80" y1="214.76" x2="89.30" y2="214.76" stroke="#444" stroke-width="0.5" />
<line x1="112.34" y1="249.20" x2="112.34" y2="250.70" stroke="#444" stroke-width="0.5" />
<line x1="87.80" y1="226.24" x2="89.30" y2="226.24" stroke="#444" stroke-width="0.5" />
<line x1="123.86" y1="249.20" x2="123.86" y2="250.70" stroke="#444" stroke-width="0.5" />
<line x1="87.80" y1="237.72" x2="89.30" y2="237.72" stroke="#444" stroke-width="0.5" />
<line x1="135.38" y1="249.20" x2="135.38" y2="250.70" stroke="#444" stroke-width="0.5" />
<path transform="translate(67.9,-30.51) scale(1,1.13)" d="M28.8,247 C28,240 30,233.2 37,233 C43,233.5 46,235.5 50,235.5 C55,235 60,233.5 65,234 C71,235.5 72.5,242 72,247Z" fill="#ebebeb" stroke="#aaa" stroke-width="0.5"/>
<path transform="translate(67.9,-30.51) scale(1,1.13)" d="M30.5,247 C29.5,241 31.5,234.8 37,234.6 C43,235.5 46,237 50,237 C55,236.5 60,235 65,235.6 C70,237 71,243 70.3,247Z" fill="#dedede" stroke="#999" stroke-width="0.5"/>
<path transform="translate(67.9,-30.51) scale(1,1.13)" d="M42.5,246.5 C44.5,240.5 51,237.8 59,237.6 C66.5,238.2 69.6,242 69.2,246.5Z" fill="#d0d0d0" stroke="#808080" stroke-width="0.7"/>
<path transform="translate(67.9,-30.51) scale(1,1.13)" d="M47,246.5 C49,241.5 55,239.3 61,239.5 C66.8,240.3 68.6,243.3 68.2,246.5Z" fill="none" stroke="#666" stroke-width="0.9"/>
<path transform="translate(67.9,-30.51) scale(1,1.13)" d="M53,246 C54.5,242.5 58,241.2 62,241.6 C65.6,242.4 66.8,244.3 66.3,246Z" fill="#c4c4c4" stroke="#666" stroke-width="0.8"/>
<path transform="translate(67.9,-30.51) scale(1,1.13)" d="M57,245.6 C58,243.8 60.5,243.2 63,243.8 C64.6,244.5 65,245 64.6,245.6Z" fill="none" stroke="#555" stroke-width="0.8"/>
<path transform="translate(67.9,-30.51) scale(1,1.13)" d="M42,246 L52,240 M44.5,246.5 L55,242 M41.5,243 L48,238.5" fill="none" stroke="#808080" stroke-width="0.6"/>
<path transform="translate(67.9,-30.51) scale(1,1.13)" d="M32.2,246.5 C31,241 33,236.1 37,235.9 C41.2,236.4 42.6,241 41.6,246.5Z" fill="#b8b8b8" stroke="#2a2a2a" stroke-width="1.4"/>
<path transform="translate(67.9,-30.51) scale(1,1.13)" d="M34.5,245.5 C34,241.5 35.3,238.6 37.3,238.5 C39.3,239 39.8,242 39.2,245.5Z" fill="#eee" stroke="#666" stroke-width="0.8"/>
<line x1="95.60" y1="248.50" x2="144.60" y2="248.50" stroke="#1a1a1a" stroke-width="2.0" />
<path d="M100.8,233.4 C96.8,223.4 97.8,215.5 103.8,214.0 C108.8,214.5 110.8,219.5 107.8,225.4 C105.8,230.4 103.8,232.4 104.8,234.4" fill="none" stroke="#999" stroke-width="0.5"/>
<path d="M100.8,226.4 C99.3,219.5 100.8,216.0 104.3,216.0 C107.8,217.5 106.8,222.5 104.3,226.4 Z" fill="none" stroke="#888" stroke-width="0.6"/>
<path d="M102.3,221.0 C102.1,218.5 103.8,217.5 105.3,218.5 C105.8,221.0 104.3,223.0 102.3,221.0 Z" fill="none" stroke="#777" stroke-width="0.6"/>
<rect x="92.80" y="210.50" width="20.50" height="17.90" fill="none" stroke="#222" stroke-width="0.9" />
<rect x="115.30" y="212.80" width="27.50" height="15.60" fill="none" stroke="#222" stroke-width="0.9" />
<text x="103.4" y="207.2" font-size="8.3" text-anchor="middle" font-weight="bold" fill="#111" stroke-width="0.25" >5.6</text>
<text x="127.9" y="209.9" font-size="8.3" text-anchor="middle" font-weight="bold" fill="#111" stroke-width="0.25" >0.2</text>
<line x1="15.20" y1="255.10" x2="15.20" y2="211.80" stroke="#333" stroke-width="0.8" />
<line x1="15.20" y1="255.10" x2="60.90" y2="255.10" stroke="#333" stroke-width="0.8" />
<polygon points="15.2,208.8 13.399999999999999,213.8 17.0,213.8" fill="#222"/>
<polygon points="63.9,255.1 58.9,253.29999999999998 58.9,256.9" fill="#222"/>
<text transform="translate(12.3,243.6) rotate(-90) scale(1.0,1)" font-size="9.3" text-anchor="middle" fill="#111" stroke-width="0.18">Kit</text>
<text x="23.8" y="263.3" font-size="9.8" text-anchor="start" font-weight="normal" fill="#111" stroke-width="0.29" >Ly6a</text>
<text x="184.4" y="107.1" font-size="13.4" text-anchor="start" font-weight="bold" fill="#000" stroke-width="0.32" >D</text>
<rect x="231.00" y="112.50" width="37.20" height="60.90" fill="none" stroke="#1a1a1a" stroke-width="0.9" />
<line x1="229.00" y1="173.40" x2="231.00" y2="173.40" stroke="#1a1a1a" stroke-width="0.7" />
<text transform="translate(226.0,175.3) scale(1.0,1)" font-size="5.2" text-anchor="end" fill="#111" stroke-width="0.15">0</text>
<line x1="229.00" y1="161.22" x2="231.00" y2="161.22" stroke="#1a1a1a" stroke-width="0.7" />
<text transform="translate(226.0,163.1) scale(1.0,1)" font-size="5.2" text-anchor="end" fill="#111" stroke-width="0.15">20</text>
<line x1="229.00" y1="149.04" x2="231.00" y2="149.04" stroke="#1a1a1a" stroke-width="0.7" />
<text transform="translate(226.0,150.9) scale(1.0,1)" font-size="5.2" text-anchor="end" fill="#111" stroke-width="0.15">40</text>
<line x1="229.00" y1="136.86" x2="231.00" y2="136.86" stroke="#1a1a1a" stroke-width="0.7" />
<text transform="translate(226.0,138.7) scale(1.0,1)" font-size="5.2" text-anchor="end" fill="#111" stroke-width="0.15">60</text>
<line x1="229.00" y1="124.68" x2="231.00" y2="124.68" stroke="#1a1a1a" stroke-width="0.7" />
<text transform="translate(226.0,126.6) scale(1.0,1)" font-size="5.2" text-anchor="end" fill="#111" stroke-width="0.15">80</text>
<line x1="229.00" y1="112.50" x2="231.00" y2="112.50" stroke="#1a1a1a" stroke-width="0.7" />
<text transform="translate(226.0,114.4) scale(1.0,1)" font-size="5.2" text-anchor="end" fill="#111" stroke-width="0.15">100</text>
<line x1="241.05" y1="142.10" x2="241.05" y2="134.60" stroke="#222" stroke-width="0.8" />
<line x1="239.75" y1="134.60" x2="242.35" y2="134.60" stroke="#222" stroke-width="0.8" />
<rect x="233.90" y="142.10" width="14.30" height="31.30" fill="#fff" stroke="#111" stroke-width="0.8" />
<line x1="257.10" y1="128.30" x2="257.10" y2="121.30" stroke="#222" stroke-width="0.8" />
<line x1="255.80" y1="121.30" x2="258.40" y2="121.30" stroke="#222" stroke-width="0.8" />
<rect x="250.20" y="128.30" width="13.80" height="45.10" fill="#000" stroke="#111" stroke-width="0.8" />
<polyline points="241.4,134 241.4,123.4 256.4,123.4 256.4,128" fill="none" stroke="#222" stroke-width="0.8"/>
<polygon points="248.40,117.60 249.07,119.38 250.97,119.47 249.48,120.65 249.99,122.48 248.40,121.43 246.81,122.48 247.32,120.65 245.83,119.47 247.73,119.38" fill="#111"/>
<text transform="translate(216.6,144.9) rotate(-90) scale(1.0,1)" font-size="7.2" text-anchor="middle" fill="#111" stroke-width="0.18">% of hematopoietic cells</text>
<text x="249.5" y="181.8" font-size="9.4" text-anchor="middle" font-weight="normal" fill="#111" stroke-width="0.28" >myeloid</text>
<rect x="303.80" y="112.50" width="74.40" height="60.90" fill="none" stroke="#1a1a1a" stroke-width="0.9" />
<line x1="301.80" y1="173.40" x2="303.80" y2="173.40" stroke="#1a1a1a" stroke-width="0.7" />
<text transform="translate(299.6,175.3) scale(1.0,1)" font-size="5.3" text-anchor="end" fill="#111" stroke-width="0.15">0,0</text>
<line x1="301.80" y1="161.22" x2="303.80" y2="161.22" stroke="#1a1a1a" stroke-width="0.7" />
<text transform="translate(299.6,163.1) scale(1.0,1)" font-size="5.3" text-anchor="end" fill="#111" stroke-width="0.15">0,1</text>
<line x1="301.80" y1="149.04" x2="303.80" y2="149.04" stroke="#1a1a1a" stroke-width="0.7" />
<text transform="translate(299.6,150.9) scale(1.0,1)" font-size="5.3" text-anchor="end" fill="#111" stroke-width="0.15">0,2</text>
<line x1="301.80" y1="136.86" x2="303.80" y2="136.86" stroke="#1a1a1a" stroke-width="0.7" />
<text transform="translate(299.6,138.8) scale(1.0,1)" font-size="5.3" text-anchor="end" fill="#111" stroke-width="0.15">0,3</text>
<line x1="301.80" y1="124.68" x2="303.80" y2="124.68" stroke="#1a1a1a" stroke-width="0.7" />
<text transform="translate(299.6,126.6) scale(1.0,1)" font-size="5.3" text-anchor="end" fill="#111" stroke-width="0.15">0,4</text>
<line x1="301.80" y1="112.50" x2="303.80" y2="112.50" stroke="#1a1a1a" stroke-width="0.7" />
<text transform="translate(299.6,114.4) scale(1.0,1)" font-size="5.3" text-anchor="end" fill="#111" stroke-width="0.15">0,5</text>
<line x1="314.50" y1="170.20" x2="314.50" y2="169.30" stroke="#222" stroke-width="0.8" />
<line x1="313.20" y1="169.30" x2="315.80" y2="169.30" stroke="#222" stroke-width="0.8" />
<rect x="307.60" y="170.20" width="13.80" height="3.20" fill="#fff" stroke="#111" stroke-width="0.8" />
<line x1="329.50" y1="168.20" x2="329.50" y2="166.30" stroke="#222" stroke-width="0.8" />
<line x1="328.20" y1="166.30" x2="330.80" y2="166.30" stroke="#222" stroke-width="0.8" />
<rect x="322.60" y="168.20" width="13.80" height="5.20" fill="#000" stroke="#111" stroke-width="0.8" />
<line x1="351.85" y1="152.60" x2="351.85" y2="143.90" stroke="#222" stroke-width="0.8" />
<line x1="350.55" y1="143.90" x2="353.15" y2="143.90" stroke="#222" stroke-width="0.8" />
<rect x="345.20" y="152.60" width="13.30" height="20.80" fill="#fff" stroke="#111" stroke-width="0.8" />
<line x1="367.10" y1="127.60" x2="367.10" y2="117.00" stroke="#222" stroke-width="0.8" />
<line x1="365.80" y1="117.00" x2="368.40" y2="117.00" stroke="#222" stroke-width="0.8" />
<rect x="360.20" y="127.60" width="13.80" height="45.80" fill="#000" stroke="#111" stroke-width="0.8" />
<polyline points="351.4,144 351.4,124.3 364.8,124.3 364.8,127.5" fill="none" stroke="#222" stroke-width="0.8"/>
<polygon points="359.00,117.80 359.67,119.58 361.57,119.67 360.08,120.85 360.59,122.68 359.00,121.63 357.41,122.68 357.92,120.85 356.43,119.67 358.33,119.58" fill="#111"/>
<text transform="translate(288.8,144.9) rotate(-90) scale(1.0,1)" font-size="7.2" text-anchor="middle" fill="#111" stroke-width="0.18">% of hematopoietic cells</text>
<text x="323.2" y="183.7" font-size="9.5" text-anchor="middle" font-weight="normal" fill="#111" stroke-width="0.28" >LSK</text>
<text x="359.5" y="183.7" font-size="9.5" text-anchor="middle" font-weight="normal" fill="#111" stroke-width="0.28" >MMP</text>
<text x="184.4" y="214.4" font-size="13.4" text-anchor="start" font-weight="bold" fill="#000" stroke-width="0.32" >E</text>
<rect x="210.60" y="221.00" width="140.10" height="55.30" fill="#fff" stroke="#808080" stroke-width="1.1" />
<text x="302.3" y="237.8" font-size="12" text-anchor="middle" font-weight="normal" fill="#111" stroke-width="0.32" >positive/tested</text>
<text x="216.6" y="254.1" font-size="11.85" text-anchor="start" font-weight="normal" fill="#111" stroke-width="0.32" >pLKO.1</text>
<text x="304.7" y="251.9" font-size="12" text-anchor="middle" font-weight="normal" fill="#111" stroke-width="0.32" >6/25</text>
<text x="217.5" y="269.3" font-size="12" text-anchor="start" font-weight="normal" fill="#111" stroke-width="0.32" >Ptn<tspan dy="-4.2" font-size="7">KD</tspan></text>
<text x="301.3" y="267.5" font-size="11.8" text-anchor="middle" font-weight="normal" fill="#111" stroke-width="0.32" >17/27</text>
<text x="393.9" y="215.4" font-size="13.4" text-anchor="start" font-weight="bold" fill="#000" stroke-width="0.32" >F</text>
<rect x="420.60" y="216.50" width="35.00" height="61.10" fill="none" stroke="#1a1a1a" stroke-width="0.9" />
<line x1="418.60" y1="277.60" x2="420.60" y2="277.60" stroke="#1a1a1a" stroke-width="0.7" />
<text transform="translate(416.6,279.8) scale(1.0,1)" font-size="6.0" text-anchor="end" fill="#111" stroke-width="0.15">0</text>
<line x1="418.60" y1="262.33" x2="420.60" y2="262.33" stroke="#1a1a1a" stroke-width="0.7" />
<text transform="translate(416.6,264.5) scale(1.0,1)" font-size="6.0" text-anchor="end" fill="#111" stroke-width="0.15">5</text>
<line x1="418.60" y1="247.05" x2="420.60" y2="247.05" stroke="#1a1a1a" stroke-width="0.7" />
<text transform="translate(416.6,249.2) scale(1.0,1)" font-size="6.0" text-anchor="end" fill="#111" stroke-width="0.15">10</text>
<line x1="418.60" y1="231.78" x2="420.60" y2="231.78" stroke="#1a1a1a" stroke-width="0.7" />
<text transform="translate(416.6,233.9) scale(1.0,1)" font-size="6.0" text-anchor="end" fill="#111" stroke-width="0.15">15</text>
<line x1="418.60" y1="216.50" x2="420.60" y2="216.50" stroke="#1a1a1a" stroke-width="0.7" />
<text transform="translate(416.6,218.7) scale(1.0,1)" font-size="6.0" text-anchor="end" fill="#111" stroke-width="0.15">20</text>
<line x1="430.40" y1="255.50" x2="430.40" y2="233.40" stroke="#222" stroke-width="0.8" />
<line x1="429.10" y1="233.40" x2="431.70" y2="233.40" stroke="#222" stroke-width="0.8" />
<rect x="423.30" y="255.50" width="14.20" height="22.10" fill="#fff" stroke="#111" stroke-width="0.8" />
<line x1="445.15" y1="250.80" x2="445.15" y2="239.10" stroke="#222" stroke-width="0.8" />
<line x1="443.85" y1="239.10" x2="446.45" y2="239.10" stroke="#222" stroke-width="0.8" />
<rect x="438.00" y="250.80" width="14.30" height="26.80" fill="#000" stroke="#111" stroke-width="0.8" />
<text transform="translate(406.2,248.8) rotate(-90) scale(1.06,1)" font-size="7.5" text-anchor="middle" fill="#111" stroke-width="0.18">x10<tspan dy="-2.2" font-size="4.6">2</tspan><tspan dy="2.2"> donor cells</tspan></text>
<text x="437.8" y="286.4" font-size="9.5" text-anchor="middle" font-weight="normal" fill="#111" stroke-width="0.28" >Cd34<tspan dy="-3" font-size="6">-</tspan><tspan dy="3">LSK</tspan></text>
<rect x="477.00" y="216.50" width="37.00" height="61.30" fill="none" stroke="#1a1a1a" stroke-width="0.9" />
<line x1="475.00" y1="277.80" x2="477.00" y2="277.80" stroke="#1a1a1a" stroke-width="0.7" />
<text transform="translate(473.2,280.0) scale(1.0,1)" font-size="6.0" text-anchor="end" fill="#111" stroke-width="0.15">0</text>
<line x1="475.00" y1="267.58" x2="477.00" y2="267.58" stroke="#1a1a1a" stroke-width="0.7" />
<text transform="translate(473.2,269.7) scale(1.0,1)" font-size="6.0" text-anchor="end" fill="#111" stroke-width="0.15">1</text>
<line x1="475.00" y1="257.37" x2="477.00" y2="257.37" stroke="#1a1a1a" stroke-width="0.7" />
<text transform="translate(473.2,259.5) scale(1.0,1)" font-size="6.0" text-anchor="end" fill="#111" stroke-width="0.15">2</text>
<line x1="475.00" y1="247.15" x2="477.00" y2="247.15" stroke="#1a1a1a" stroke-width="0.7" />
<text transform="translate(473.2,249.3) scale(1.0,1)" font-size="6.0" text-anchor="end" fill="#111" stroke-width="0.15">3</text>
<line x1="475.00" y1="236.93" x2="477.00" y2="236.93" stroke="#1a1a1a" stroke-width="0.7" />
<text transform="translate(473.2,239.1) scale(1.0,1)" font-size="6.0" text-anchor="end" fill="#111" stroke-width="0.15">4</text>
<line x1="475.00" y1="226.72" x2="477.00" y2="226.72" stroke="#1a1a1a" stroke-width="0.7" />
<text transform="translate(473.2,228.9) scale(1.0,1)" font-size="6.0" text-anchor="end" fill="#111" stroke-width="0.15">5</text>
<line x1="475.00" y1="216.50" x2="477.00" y2="216.50" stroke="#1a1a1a" stroke-width="0.7" />
<text transform="translate(473.2,218.7) scale(1.0,1)" font-size="6.0" text-anchor="end" fill="#111" stroke-width="0.15">6</text>
<line x1="487.90" y1="251.30" x2="487.90" y2="226.20" stroke="#222" stroke-width="0.8" />
<line x1="486.60" y1="226.20" x2="489.20" y2="226.20" stroke="#222" stroke-width="0.8" />
<rect x="480.50" y="251.30" width="14.80" height="26.50" fill="#fff" stroke="#111" stroke-width="0.8" />
<line x1="503.80" y1="263.00" x2="503.80" y2="255.20" stroke="#222" stroke-width="0.8" />
<line x1="502.50" y1="255.20" x2="505.10" y2="255.20" stroke="#222" stroke-width="0.8" />
<rect x="496.60" y="263.00" width="14.40" height="14.80" fill="#000" stroke="#111" stroke-width="0.8" />
<text transform="translate(468.5,247.8) rotate(-90) scale(1.06,1)" font-size="7.5" text-anchor="middle" fill="#111" stroke-width="0.18">x10<tspan dy="-2.2" font-size="4.6">4</tspan><tspan dy="2.2"> donor cells</tspan></text>
<text x="495.2" y="290.0" font-size="10.5" text-anchor="middle" font-weight="normal" fill="#111" stroke-width="0.32" >MMP</text>
<text x="1.9" y="312.9" font-size="13.4" text-anchor="start" font-weight="bold" fill="#000" stroke-width="0.32" >G</text>
<rect x="32.50" y="316.40" width="85.90" height="65.40" fill="none" stroke="#1a1a1a" stroke-width="0.8" />
<line x1="30.70" y1="381.80" x2="32.50" y2="381.80" stroke="#222" stroke-width="0.6" />
<text x="29.8" y="383.5" font-size="4.8" text-anchor="end" font-weight="normal" fill="#111" stroke-width="0.14" >0</text>
<line x1="30.70" y1="370.90" x2="32.50" y2="370.90" stroke="#222" stroke-width="0.6" />
<text x="29.8" y="372.6" font-size="4.8" text-anchor="end" font-weight="normal" fill="#111" stroke-width="0.14" >10</text>
<line x1="30.70" y1="360.00" x2="32.50" y2="360.00" stroke="#222" stroke-width="0.6" />
<text x="29.8" y="361.7" font-size="4.8" text-anchor="end" font-weight="normal" fill="#111" stroke-width="0.14" >20</text>
<line x1="30.70" y1="349.10" x2="32.50" y2="349.10" stroke="#222" stroke-width="0.6" />
<text x="29.8" y="350.8" font-size="4.8" text-anchor="end" font-weight="normal" fill="#111" stroke-width="0.14" >30</text>
<line x1="30.70" y1="338.20" x2="32.50" y2="338.20" stroke="#222" stroke-width="0.6" />
<text x="29.8" y="339.9" font-size="4.8" text-anchor="end" font-weight="normal" fill="#111" stroke-width="0.14" >40</text>
<line x1="30.70" y1="327.30" x2="32.50" y2="327.30" stroke="#222" stroke-width="0.6" />
<text x="29.8" y="329.0" font-size="4.8" text-anchor="end" font-weight="normal" fill="#111" stroke-width="0.14" >50</text>
<line x1="30.70" y1="316.40" x2="32.50" y2="316.40" stroke="#222" stroke-width="0.6" />
<text x="29.8" y="318.1" font-size="4.8" text-anchor="end" font-weight="normal" fill="#111" stroke-width="0.14" >60</text>
<line x1="32.50" y1="381.80" x2="32.50" y2="383.10" stroke="#444" stroke-width="0.4" />
<line x1="38.23" y1="381.80" x2="38.23" y2="383.10" stroke="#444" stroke-width="0.4" />
<line x1="43.95" y1="381.80" x2="43.95" y2="383.10" stroke="#444" stroke-width="0.4" />
<line x1="49.68" y1="381.80" x2="49.68" y2="383.10" stroke="#444" stroke-width="0.4" />
<line x1="55.41" y1="381.80" x2="55.41" y2="383.10" stroke="#444" stroke-width="0.4" />
<line x1="61.13" y1="381.80" x2="61.13" y2="383.10" stroke="#444" stroke-width="0.4" />
<line x1="66.86" y1="381.80" x2="66.86" y2="383.10" stroke="#444" stroke-width="0.4" />
<line x1="72.59" y1="381.80" x2="72.59" y2="383.10" stroke="#444" stroke-width="0.4" />
<line x1="78.31" y1="381.80" x2="78.31" y2="383.10" stroke="#444" stroke-width="0.4" />
<line x1="84.04" y1="381.80" x2="84.04" y2="383.10" stroke="#444" stroke-width="0.4" />
<line x1="89.77" y1="381.80" x2="89.77" y2="383.10" stroke="#444" stroke-width="0.4" />
<line x1="95.49" y1="381.80" x2="95.49" y2="383.10" stroke="#444" stroke-width="0.4" />
<line x1="101.22" y1="381.80" x2="101.22" y2="383.10" stroke="#444" stroke-width="0.4" />
<line x1="106.95" y1="381.80" x2="106.95" y2="383.10" stroke="#444" stroke-width="0.4" />
<line x1="112.67" y1="381.80" x2="112.67" y2="383.10" stroke="#444" stroke-width="0.4" />
<line x1="118.40" y1="381.80" x2="118.40" y2="383.10" stroke="#444" stroke-width="0.4" />
<text x="33.6" y="389.6" font-size="4.4" text-anchor="middle" font-weight="normal" fill="#111" stroke-width="0.13" >4</text>
<text x="61.7" y="389.6" font-size="4.4" text-anchor="middle" font-weight="normal" fill="#111" stroke-width="0.13" >9</text>
<text x="90.7" y="389.6" font-size="4.4" text-anchor="middle" font-weight="normal" fill="#111" stroke-width="0.13" >14</text>
<text x="118.8" y="389.6" font-size="4.4" text-anchor="middle" font-weight="normal" fill="#111" stroke-width="0.13" >19</text>
<text transform="translate(21.5,349.2) rotate(-90) scale(1.07,1)" font-size="7.2" text-anchor="middle" fill="#111" stroke-width="0.18">% of donor cells</text>
<text x="75.3" y="313.4" font-size="9" text-anchor="middle" font-weight="normal" fill="#111" stroke-width="0.27" >myeloid</text>
<text transform="translate(75.0,395.9) scale(0.84,1)" font-size="8.8" text-anchor="middle" font-weight="normal" fill="#111" stroke-width="0.25">weeks after transplantation</text>
<polyline points="38.6,336.9 67.2,363.5 101.8,361.0" fill="none" stroke="#111" stroke-width="1.15" />
<line x1="38.60" y1="327.80" x2="38.60" y2="346.00" stroke="#222" stroke-width="0.7" />
<line x1="37.50" y1="327.80" x2="39.70" y2="327.80" stroke="#222" stroke-width="0.7" />
<line x1="37.50" y1="346.00" x2="39.70" y2="346.00" stroke="#222" stroke-width="0.7" />
<polygon points="38.6,333.9 36.1,338.79999999999995 41.1,338.79999999999995" fill="#111"/>
<line x1="67.20" y1="357.60" x2="67.20" y2="370.80" stroke="#222" stroke-width="0.7" />
<line x1="66.10" y1="357.60" x2="68.30" y2="357.60" stroke="#222" stroke-width="0.7" />
<line x1="66.10" y1="370.80" x2="68.30" y2="370.80" stroke="#222" stroke-width="0.7" />
<polygon points="67.2,360.5 64.7,365.4 69.7,365.4" fill="#111"/>
<line x1="101.80" y1="353.80" x2="101.80" y2="370.80" stroke="#222" stroke-width="0.7" />
<line x1="100.70" y1="353.80" x2="102.90" y2="353.80" stroke="#222" stroke-width="0.7" />
<line x1="100.70" y1="370.80" x2="102.90" y2="370.80" stroke="#222" stroke-width="0.7" />
<polygon points="101.8,358 99.3,362.9 104.3,362.9" fill="#111"/>
<polyline points="38.6,351.4 67.2,377.5 101.8,379.2" fill="none" stroke="#111" stroke-width="1.15" stroke-dasharray="5 2.5"/>
<line x1="38.60" y1="342.00" x2="38.60" y2="362.50" stroke="#222" stroke-width="0.7" />
<line x1="37.50" y1="342.00" x2="39.70" y2="342.00" stroke="#222" stroke-width="0.7" />
<line x1="37.50" y1="362.50" x2="39.70" y2="362.50" stroke="#222" stroke-width="0.7" />
<rect x="36.80" y="349.60" width="3.60" height="3.60" fill="#111" stroke="none" stroke-width="0" />
<line x1="67.20" y1="375.60" x2="67.20" y2="379.30" stroke="#222" stroke-width="0.7" />
<line x1="66.10" y1="375.60" x2="68.30" y2="375.60" stroke="#222" stroke-width="0.7" />
<line x1="66.10" y1="379.30" x2="68.30" y2="379.30" stroke="#222" stroke-width="0.7" />
<circle cx="67.2" cy="377.5" r="2" fill="#111"/>
<line x1="101.80" y1="377.50" x2="101.80" y2="380.80" stroke="#222" stroke-width="0.7" />
<line x1="100.70" y1="377.50" x2="102.90" y2="377.50" stroke="#222" stroke-width="0.7" />
<line x1="100.70" y1="380.80" x2="102.90" y2="380.80" stroke="#222" stroke-width="0.7" />
<circle cx="101.8" cy="379.2" r="2" fill="#111"/>
<polygon points="67.20,349.00 67.89,350.85 69.86,350.93 68.32,352.16 68.85,354.07 67.20,352.98 65.55,354.07 66.08,352.16 64.54,350.93 66.51,350.85" fill="#111"/>
<polygon points="101.80,346.40 102.49,348.25 104.46,348.33 102.92,349.56 103.45,351.47 101.80,350.38 100.15,351.47 100.68,349.56 99.14,348.33 101.11,348.25" fill="#111"/>
<rect x="137.40" y="317.40" width="86.40" height="65.80" fill="none" stroke="#1a1a1a" stroke-width="0.8" />
<line x1="135.60" y1="383.20" x2="137.40" y2="383.20" stroke="#222" stroke-width="0.6" />
<text x="134.6" y="385.0" font-size="5.0" text-anchor="end" font-weight="normal" fill="#111" stroke-width="0.15" >0</text>
<line x1="135.60" y1="376.62" x2="137.40" y2="376.62" stroke="#222" stroke-width="0.6" />
<text x="134.6" y="378.4" font-size="5.0" text-anchor="end" font-weight="normal" fill="#111" stroke-width="0.15" >10</text>
<line x1="135.60" y1="370.04" x2="137.40" y2="370.04" stroke="#222" stroke-width="0.6" />
<text x="134.6" y="371.8" font-size="5.0" text-anchor="end" font-weight="normal" fill="#111" stroke-width="0.15" >20</text>
<line x1="135.60" y1="363.46" x2="137.40" y2="363.46" stroke="#222" stroke-width="0.6" />
<text x="134.6" y="365.3" font-size="5.0" text-anchor="end" font-weight="normal" fill="#111" stroke-width="0.15" >30</text>
<line x1="135.60" y1="356.88" x2="137.40" y2="356.88" stroke="#222" stroke-width="0.6" />
<text x="134.6" y="358.7" font-size="5.0" text-anchor="end" font-weight="normal" fill="#111" stroke-width="0.15" >40</text>
<line x1="135.60" y1="350.30" x2="137.40" y2="350.30" stroke="#222" stroke-width="0.6" />
<text x="134.6" y="352.1" font-size="5.0" text-anchor="end" font-weight="normal" fill="#111" stroke-width="0.15" >50</text>
<line x1="135.60" y1="343.72" x2="137.40" y2="343.72" stroke="#222" stroke-width="0.6" />
<text x="134.6" y="345.5" font-size="5.0" text-anchor="end" font-weight="normal" fill="#111" stroke-width="0.15" >60</text>
<line x1="135.60" y1="337.14" x2="137.40" y2="337.14" stroke="#222" stroke-width="0.6" />
<text x="134.6" y="338.9" font-size="5.0" text-anchor="end" font-weight="normal" fill="#111" stroke-width="0.15" >70</text>
<line x1="135.60" y1="330.56" x2="137.40" y2="330.56" stroke="#222" stroke-width="0.6" />
<text x="134.6" y="332.4" font-size="5.0" text-anchor="end" font-weight="normal" fill="#111" stroke-width="0.15" >80</text>
<line x1="135.60" y1="323.98" x2="137.40" y2="323.98" stroke="#222" stroke-width="0.6" />
<text x="134.6" y="325.8" font-size="5.0" text-anchor="end" font-weight="normal" fill="#111" stroke-width="0.15" >90</text>
<line x1="135.60" y1="317.40" x2="137.40" y2="317.40" stroke="#222" stroke-width="0.6" />
<text x="134.6" y="319.2" font-size="5.0" text-anchor="end" font-weight="normal" fill="#111" stroke-width="0.15" >100</text>
<line x1="137.40" y1="383.20" x2="137.40" y2="384.50" stroke="#444" stroke-width="0.4" />
<line x1="143.16" y1="383.20" x2="143.16" y2="384.50" stroke="#444" stroke-width="0.4" />
<line x1="148.92" y1="383.20" x2="148.92" y2="384.50" stroke="#444" stroke-width="0.4" />
<line x1="154.68" y1="383.20" x2="154.68" y2="384.50" stroke="#444" stroke-width="0.4" />
<line x1="160.44" y1="383.20" x2="160.44" y2="384.50" stroke="#444" stroke-width="0.4" />
<line x1="166.20" y1="383.20" x2="166.20" y2="384.50" stroke="#444" stroke-width="0.4" />
<line x1="171.96" y1="383.20" x2="171.96" y2="384.50" stroke="#444" stroke-width="0.4" />
<line x1="177.72" y1="383.20" x2="177.72" y2="384.50" stroke="#444" stroke-width="0.4" />
<line x1="183.48" y1="383.20" x2="183.48" y2="384.50" stroke="#444" stroke-width="0.4" />
<line x1="189.24" y1="383.20" x2="189.24" y2="384.50" stroke="#444" stroke-width="0.4" />
<line x1="195.00" y1="383.20" x2="195.00" y2="384.50" stroke="#444" stroke-width="0.4" />
<line x1="200.76" y1="383.20" x2="200.76" y2="384.50" stroke="#444" stroke-width="0.4" />
<line x1="206.52" y1="383.20" x2="206.52" y2="384.50" stroke="#444" stroke-width="0.4" />
<line x1="212.28" y1="383.20" x2="212.28" y2="384.50" stroke="#444" stroke-width="0.4" />
<line x1="218.04" y1="383.20" x2="218.04" y2="384.50" stroke="#444" stroke-width="0.4" />
<line x1="223.80" y1="383.20" x2="223.80" y2="384.50" stroke="#444" stroke-width="0.4" />
<text x="138.0" y="390.4" font-size="4.4" text-anchor="middle" font-weight="normal" fill="#111" stroke-width="0.13" >4</text>
<text x="166.8" y="390.4" font-size="4.4" text-anchor="middle" font-weight="normal" fill="#111" stroke-width="0.13" >9</text>
<text x="194.7" y="390.4" font-size="4.4" text-anchor="middle" font-weight="normal" fill="#111" stroke-width="0.13" >14</text>
<text x="222.3" y="390.4" font-size="4.4" text-anchor="middle" font-weight="normal" fill="#111" stroke-width="0.13" >19</text>
<text transform="translate(126.6,352.0) rotate(-90) scale(1.07,1)" font-size="7.2" text-anchor="middle" fill="#111" stroke-width="0.18">% of donor cells</text>
<text x="178.3" y="315.0" font-size="9" text-anchor="middle" font-weight="normal" fill="#111" stroke-width="0.27" >lymphoid</text>
<text transform="translate(178.2,396.0) scale(0.815,1)" font-size="8.8" text-anchor="middle" font-weight="normal" fill="#111" stroke-width="0.25">weeks after transplantation</text>
<polyline points="143.9,364.7 172.6,365.4 206.5,349.0" fill="none" stroke="#111" stroke-width="1.15" />
<line x1="143.90" y1="357.60" x2="143.90" y2="370.70" stroke="#222" stroke-width="0.7" />
<line x1="142.80" y1="357.60" x2="145.00" y2="357.60" stroke="#222" stroke-width="0.7" />
<line x1="142.80" y1="370.70" x2="145.00" y2="370.70" stroke="#222" stroke-width="0.7" />
<polygon points="143.9,361.7 141.4,366.59999999999997 146.4,366.59999999999997" fill="#111"/>
<line x1="172.60" y1="359.00" x2="172.60" y2="372.00" stroke="#222" stroke-width="0.7" />
<line x1="171.50" y1="359.00" x2="173.70" y2="359.00" stroke="#222" stroke-width="0.7" />
<line x1="171.50" y1="372.00" x2="173.70" y2="372.00" stroke="#222" stroke-width="0.7" />
<polygon points="172.6,362.4 170.1,367.29999999999995 175.1,367.29999999999995" fill="#111"/>
<line x1="206.50" y1="342.00" x2="206.50" y2="355.50" stroke="#222" stroke-width="0.7" />
<line x1="205.40" y1="342.00" x2="207.60" y2="342.00" stroke="#222" stroke-width="0.7" />
<line x1="205.40" y1="355.50" x2="207.60" y2="355.50" stroke="#222" stroke-width="0.7" />
<polygon points="206.5,346 204.0,350.9 209.0,350.9" fill="#111"/>
<polyline points="143.9,350.6 172.6,340.1 206.5,325.8" fill="none" stroke="#111" stroke-width="1.15" stroke-dasharray="5 2.5"/>
<line x1="143.90" y1="342.00" x2="143.90" y2="358.90" stroke="#222" stroke-width="0.7" />
<line x1="142.80" y1="342.00" x2="145.00" y2="342.00" stroke="#222" stroke-width="0.7" />
<line x1="142.80" y1="358.90" x2="145.00" y2="358.90" stroke="#222" stroke-width="0.7" />
<rect x="142.10" y="348.80" width="3.60" height="3.60" fill="#111" stroke="none" stroke-width="0" />
<line x1="172.60" y1="333.60" x2="172.60" y2="345.90" stroke="#222" stroke-width="0.7" />
<line x1="171.50" y1="333.60" x2="173.70" y2="333.60" stroke="#222" stroke-width="0.7" />
<line x1="171.50" y1="345.90" x2="173.70" y2="345.90" stroke="#222" stroke-width="0.7" />
<rect x="170.80" y="338.30" width="3.60" height="3.60" fill="#111" stroke="none" stroke-width="0" />
<line x1="206.50" y1="323.50" x2="206.50" y2="328.00" stroke="#222" stroke-width="0.7" />
<line x1="205.40" y1="323.50" x2="207.60" y2="323.50" stroke="#222" stroke-width="0.7" />
<line x1="205.40" y1="328.00" x2="207.60" y2="328.00" stroke="#222" stroke-width="0.7" />
<circle cx="206.5" cy="325.8" r="2" fill="#111"/>
<polygon points="172.60,349.60 173.29,351.45 175.26,351.53 173.72,352.76 174.25,354.67 172.60,353.58 170.95,354.67 171.48,352.76 169.94,351.53 171.91,351.45" fill="#111"/>
<polygon points="206.50,332.10 207.19,333.95 209.16,334.03 207.62,335.26 208.15,337.17 206.50,336.08 204.85,337.17 205.38,335.26 203.84,334.03 205.81,333.95" fill="#111"/>
<text x="237.4" y="313.6" font-size="13.4" text-anchor="start" font-weight="bold" fill="#000" stroke-width="0.32" >H</text>
<rect x="265.40" y="323.60" width="35.30" height="59.60" fill="none" stroke="#1a1a1a" stroke-width="0.9" />
<line x1="263.40" y1="383.20" x2="265.40" y2="383.20" stroke="#1a1a1a" stroke-width="0.7" />
<text transform="translate(262.0,385.2) scale(1.0,1)" font-size="5.6" text-anchor="end" fill="#111" stroke-width="0.15">0</text>
<line x1="263.40" y1="371.28" x2="265.40" y2="371.28" stroke="#1a1a1a" stroke-width="0.7" />
<text transform="translate(262.0,373.3) scale(1.0,1)" font-size="5.6" text-anchor="end" fill="#111" stroke-width="0.15">5</text>
<line x1="263.40" y1="359.36" x2="265.40" y2="359.36" stroke="#1a1a1a" stroke-width="0.7" />
<text transform="translate(262.0,361.4) scale(1.0,1)" font-size="5.6" text-anchor="end" fill="#111" stroke-width="0.15">10</text>
<line x1="263.40" y1="347.44" x2="265.40" y2="347.44" stroke="#1a1a1a" stroke-width="0.7" />
<text transform="translate(262.0,349.5) scale(1.0,1)" font-size="5.6" text-anchor="end" fill="#111" stroke-width="0.15">15</text>
<line x1="263.40" y1="335.52" x2="265.40" y2="335.52" stroke="#1a1a1a" stroke-width="0.7" />
<text transform="translate(262.0,337.5) scale(1.0,1)" font-size="5.6" text-anchor="end" fill="#111" stroke-width="0.15">20</text>
<line x1="263.40" y1="323.60" x2="265.40" y2="323.60" stroke="#1a1a1a" stroke-width="0.7" />
<text transform="translate(262.0,325.6) scale(1.0,1)" font-size="5.6" text-anchor="end" fill="#111" stroke-width="0.15">25</text>
<line x1="275.90" y1="364.00" x2="275.90" y2="356.40" stroke="#222" stroke-width="0.8" />
<line x1="274.60" y1="356.40" x2="277.20" y2="356.40" stroke="#222" stroke-width="0.8" />
<rect x="269.10" y="364.00" width="13.60" height="19.20" fill="#fff" stroke="#111" stroke-width="0.8" />
<line x1="290.60" y1="340.50" x2="290.60" y2="334.80" stroke="#222" stroke-width="0.8" />
<line x1="289.30" y1="334.80" x2="291.90" y2="334.80" stroke="#222" stroke-width="0.8" />
<rect x="284.10" y="340.50" width="13.00" height="42.70" fill="#000" stroke="#111" stroke-width="0.8" />
<polyline points="276,356 276,336.6 290.8,336.6 290.8,340" fill="none" stroke="#222" stroke-width="0.8"/>
<polygon points="282.30,330.20 282.89,331.78 284.58,331.86 283.26,332.91 283.71,334.54 282.30,333.61 280.89,334.54 281.34,332.91 280.02,331.86 281.71,331.78" fill="#111"/>
<text transform="translate(252.2,353.9) rotate(-90) scale(1.12,1)" font-size="7.2" text-anchor="middle" fill="#111" stroke-width="0.18">% donor cells</text>
<text x="280.2" y="391.2" font-size="8.3" text-anchor="middle" font-weight="normal" fill="#111" stroke-width="0.25" >bone marrow</text>
<text x="312.9" y="313.6" font-size="13.4" text-anchor="start" font-weight="bold" fill="#000" stroke-width="0.32" >I</text>
<rect x="337.80" y="323.20" width="35.70" height="60.20" fill="none" stroke="#1a1a1a" stroke-width="0.9" />
<line x1="335.80" y1="383.40" x2="337.80" y2="383.40" stroke="#1a1a1a" stroke-width="0.7" />
<text transform="translate(335.0,385.4) scale(1.0,1)" font-size="5.6" text-anchor="end" fill="#111" stroke-width="0.15">0</text>
<line x1="335.80" y1="371.36" x2="337.80" y2="371.36" stroke="#1a1a1a" stroke-width="0.7" />
<text transform="translate(335.0,373.4) scale(1.0,1)" font-size="5.6" text-anchor="end" fill="#111" stroke-width="0.15">5</text>
<line x1="335.80" y1="359.32" x2="337.80" y2="359.32" stroke="#1a1a1a" stroke-width="0.7" />
<text transform="translate(335.0,361.3) scale(1.0,1)" font-size="5.6" text-anchor="end" fill="#111" stroke-width="0.15">10</text>
<line x1="335.80" y1="347.28" x2="337.80" y2="347.28" stroke="#1a1a1a" stroke-width="0.7" />
<text transform="translate(335.0,349.3) scale(1.0,1)" font-size="5.6" text-anchor="end" fill="#111" stroke-width="0.15">15</text>
<line x1="335.80" y1="335.24" x2="337.80" y2="335.24" stroke="#1a1a1a" stroke-width="0.7" />
<text transform="translate(335.0,337.3) scale(1.0,1)" font-size="5.6" text-anchor="end" fill="#111" stroke-width="0.15">20</text>
<line x1="335.80" y1="323.20" x2="337.80" y2="323.20" stroke="#1a1a1a" stroke-width="0.7" />
<text transform="translate(335.0,325.2) scale(1.0,1)" font-size="5.6" text-anchor="end" fill="#111" stroke-width="0.15">25</text>
<line x1="349.00" y1="335.00" x2="349.00" y2="326.00" stroke="#222" stroke-width="0.8" />
<line x1="347.70" y1="326.00" x2="350.30" y2="326.00" stroke="#222" stroke-width="0.8" />
<rect x="341.80" y="335.00" width="14.40" height="48.40" fill="#fff" stroke="#111" stroke-width="0.8" />
<line x1="363.70" y1="341.30" x2="363.70" y2="335.00" stroke="#222" stroke-width="0.8" />
<line x1="362.40" y1="335.00" x2="365.00" y2="335.00" stroke="#222" stroke-width="0.8" />
<rect x="357.00" y="341.30" width="13.40" height="42.10" fill="#000" stroke="#111" stroke-width="0.8" />
<text transform="translate(327.3,356.3) rotate(-90) scale(1.12,1)" font-size="7.2" text-anchor="middle" fill="#111" stroke-width="0.18">% donor cells</text>
<text x="355.5" y="391.6" font-size="8.5" text-anchor="middle" font-weight="normal" fill="#111" stroke-width="0.26" >blood</text>
<text x="384.9" y="313.9" font-size="13.4" text-anchor="start" font-weight="bold" fill="#000" stroke-width="0.32" >J</text>
<rect x="410.30" y="323.70" width="34.90" height="59.30" fill="none" stroke="#1a1a1a" stroke-width="0.9" />
<line x1="408.30" y1="383.00" x2="410.30" y2="383.00" stroke="#1a1a1a" stroke-width="0.7" />
<text transform="translate(407.3,385.0) scale(1.0,1)" font-size="5.6" text-anchor="end" fill="#111" stroke-width="0.15">0,0</text>
<line x1="408.30" y1="373.12" x2="410.30" y2="373.12" stroke="#1a1a1a" stroke-width="0.7" />
<text transform="translate(407.3,375.1) scale(1.0,1)" font-size="5.6" text-anchor="end" fill="#111" stroke-width="0.15">0,2</text>
<line x1="408.30" y1="363.23" x2="410.30" y2="363.23" stroke="#1a1a1a" stroke-width="0.7" />
<text transform="translate(407.3,365.2) scale(1.0,1)" font-size="5.6" text-anchor="end" fill="#111" stroke-width="0.15">0,4</text>
<line x1="408.30" y1="353.35" x2="410.30" y2="353.35" stroke="#1a1a1a" stroke-width="0.7" />
<text transform="translate(407.3,355.4) scale(1.0,1)" font-size="5.6" text-anchor="end" fill="#111" stroke-width="0.15">0,6</text>
<line x1="408.30" y1="343.47" x2="410.30" y2="343.47" stroke="#1a1a1a" stroke-width="0.7" />
<text transform="translate(407.3,345.5) scale(1.0,1)" font-size="5.6" text-anchor="end" fill="#111" stroke-width="0.15">0,8</text>
<line x1="408.30" y1="333.58" x2="410.30" y2="333.58" stroke="#1a1a1a" stroke-width="0.7" />
<text transform="translate(407.3,335.6) scale(1.0,1)" font-size="5.6" text-anchor="end" fill="#111" stroke-width="0.15">1,0</text>
<line x1="408.30" y1="323.70" x2="410.30" y2="323.70" stroke="#1a1a1a" stroke-width="0.7" />
<text transform="translate(407.3,325.7) scale(1.0,1)" font-size="5.6" text-anchor="end" fill="#111" stroke-width="0.15">1,2</text>
<line x1="420.75" y1="360.80" x2="420.75" y2="355.40" stroke="#222" stroke-width="0.8" />
<line x1="419.45" y1="355.40" x2="422.05" y2="355.40" stroke="#222" stroke-width="0.8" />
<rect x="414.20" y="360.80" width="13.10" height="22.20" fill="#fff" stroke="#111" stroke-width="0.8" />
<line x1="435.00" y1="335.30" x2="435.00" y2="329.60" stroke="#222" stroke-width="0.8" />
<line x1="433.70" y1="329.60" x2="436.30" y2="329.60" stroke="#222" stroke-width="0.8" />
<rect x="428.40" y="335.30" width="13.20" height="47.70" fill="#000" stroke="#111" stroke-width="0.8" />
<polyline points="421,355 421,332.4 434.9,332.4 434.9,335" fill="none" stroke="#222" stroke-width="0.8"/>
<polygon points="427.20,325.10 428.01,327.28 430.34,327.38 428.52,328.83 429.14,331.07 427.20,329.79 425.26,331.07 425.88,328.83 424.06,327.38 426.39,327.28" fill="#111"/>
<text transform="translate(397.4,354.0) rotate(-90) scale(1.09,1)" font-size="7.5" text-anchor="middle" fill="#111" stroke-width="0.18">x10<tspan dy="-2.2" font-size="4.6">3</tspan><tspan dy="2.2"> donor cells</tspan></text>
<text x="427.2" y="391.9" font-size="9.1" text-anchor="middle" font-weight="normal" fill="#111" stroke-width="0.27" >Cd34<tspan dy="-3" font-size="6">-</tspan><tspan dy="3">LSK</tspan></text>
<text x="461.4" y="313.9" font-size="13.4" text-anchor="start" font-weight="bold" fill="#000" stroke-width="0.32" >K</text>
<rect x="482.20" y="324.10" width="35.00" height="59.70" fill="none" stroke="#1a1a1a" stroke-width="0.9" />
<line x1="480.20" y1="383.80" x2="482.20" y2="383.80" stroke="#1a1a1a" stroke-width="0.7" />
<text transform="translate(479.0,385.9) scale(1.0,1)" font-size="5.8" text-anchor="end" fill="#111" stroke-width="0.15">0</text>
<line x1="480.20" y1="375.27" x2="482.20" y2="375.27" stroke="#1a1a1a" stroke-width="0.7" />
<text transform="translate(479.0,377.4) scale(1.0,1)" font-size="5.8" text-anchor="end" fill="#111" stroke-width="0.15">1</text>
<line x1="480.20" y1="366.74" x2="482.20" y2="366.74" stroke="#1a1a1a" stroke-width="0.7" />
<text transform="translate(479.0,368.8) scale(1.0,1)" font-size="5.8" text-anchor="end" fill="#111" stroke-width="0.15">2</text>
<line x1="480.20" y1="358.21" x2="482.20" y2="358.21" stroke="#1a1a1a" stroke-width="0.7" />
<text transform="translate(479.0,360.3) scale(1.0,1)" font-size="5.8" text-anchor="end" fill="#111" stroke-width="0.15">3</text>
<line x1="480.20" y1="349.69" x2="482.20" y2="349.69" stroke="#1a1a1a" stroke-width="0.7" />
<text transform="translate(479.0,351.8) scale(1.0,1)" font-size="5.8" text-anchor="end" fill="#111" stroke-width="0.15">4</text>
<line x1="480.20" y1="341.16" x2="482.20" y2="341.16" stroke="#1a1a1a" stroke-width="0.7" />
<text transform="translate(479.0,343.2) scale(1.0,1)" font-size="5.8" text-anchor="end" fill="#111" stroke-width="0.15">5</text>
<line x1="480.20" y1="332.63" x2="482.20" y2="332.63" stroke="#1a1a1a" stroke-width="0.7" />
<text transform="translate(479.0,334.7) scale(1.0,1)" font-size="5.8" text-anchor="end" fill="#111" stroke-width="0.15">6</text>
<line x1="480.20" y1="324.10" x2="482.20" y2="324.10" stroke="#1a1a1a" stroke-width="0.7" />
<text transform="translate(479.0,326.2) scale(1.0,1)" font-size="5.8" text-anchor="end" fill="#111" stroke-width="0.15">7</text>
<line x1="493.50" y1="358.30" x2="493.50" y2="345.20" stroke="#222" stroke-width="0.8" />
<line x1="492.20" y1="345.20" x2="494.80" y2="345.20" stroke="#222" stroke-width="0.8" />
<rect x="486.80" y="358.30" width="13.40" height="25.50" fill="#fff" stroke="#111" stroke-width="0.8" />
<line x1="507.45" y1="336.50" x2="507.45" y2="330.30" stroke="#222" stroke-width="0.8" />
<line x1="506.15" y1="330.30" x2="508.75" y2="330.30" stroke="#222" stroke-width="0.8" />
<rect x="500.90" y="336.50" width="13.10" height="47.30" fill="#000" stroke="#111" stroke-width="0.8" />
<text transform="translate(474.0,354.0) rotate(-90) scale(1.09,1)" font-size="7.5" text-anchor="middle" fill="#111" stroke-width="0.18">x10<tspan dy="-2.2" font-size="4.6">4</tspan><tspan dy="2.2"> donor cells</tspan></text>
<text x="498.6" y="392.8" font-size="9" text-anchor="middle" font-weight="normal" fill="#111" stroke-width="0.27" >MMP</text>
</svg>
</body></html>
